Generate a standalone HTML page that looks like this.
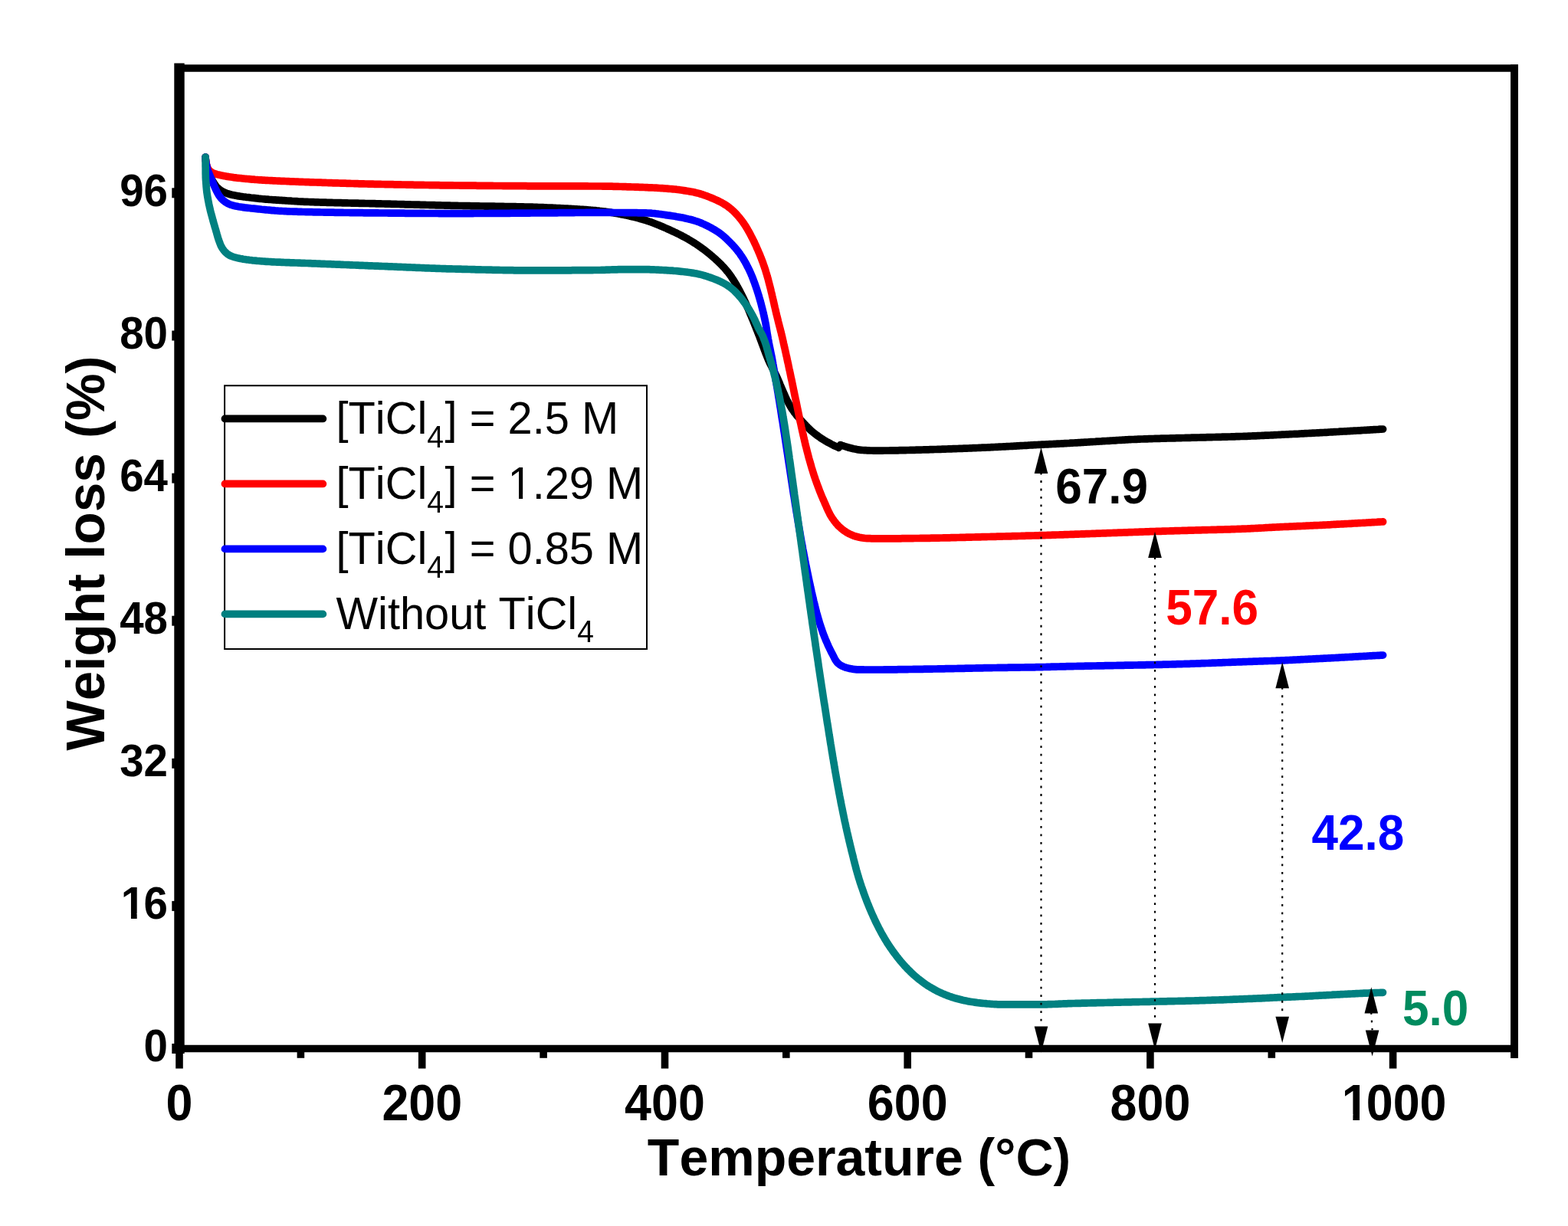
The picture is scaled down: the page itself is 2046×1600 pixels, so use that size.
<!DOCTYPE html>
<html lang="en">
<head>
<meta charset="utf-8">
<title>TGA weight loss vs temperature</title>
<style>
html,body{margin:0;padding:0;background:#fff;}
body{width:2046px;height:1600px;overflow:hidden;}
svg{display:block;}
</style>
</head>
<body>
<svg xmlns="http://www.w3.org/2000/svg" width="2046" height="1600" viewBox="0 0 2046 1600">
<rect width="2046" height="1600" fill="#fff"/>
<g fill="none" stroke-linecap="round" stroke-linejoin="round" stroke-width="9.7">
<path stroke="#000000" d="M268.1,205.0 L268.2,207.0 L268.4,209.0 L268.7,211.0 L269.0,213.0 L269.4,215.0 L269.7,216.9 L270.2,218.8 L270.7,220.8 L271.3,222.6 L271.9,224.5 L272.7,226.4 L273.5,228.2 L274.4,230.0 L275.2,231.9 L276.1,233.6 L277.1,235.4 L278.1,237.1 L279.1,238.8 L280.2,240.5 L281.4,242.2 L282.6,243.7 L284.0,245.2 L285.5,246.5 L287.0,247.7 L288.7,248.9 L290.4,249.9 L292.1,250.8 L294.0,251.6 L295.8,252.3 L297.7,252.9 L299.7,253.5 L301.6,254.0 L303.5,254.4 L305.5,254.8 L307.5,255.2 L309.4,255.6 L311.4,255.9 L313.4,256.2 L315.3,256.5 L317.3,256.8 L319.3,257.0 L321.3,257.3 L323.3,257.5 L325.3,257.7 L327.3,258.0 L329.2,258.2 L331.2,258.4 L333.2,258.6 L335.2,258.8 L337.2,259.1 L339.2,259.3 L341.2,259.5 L343.1,259.7 L345.1,259.9 L347.1,260.1 L349.1,260.2 L351.1,260.4 L353.1,260.5 L355.1,260.7 L357.1,260.8 L359.1,260.9 L361.1,261.1 L363.1,261.2 L365.1,261.3 L367.1,261.4 L369.1,261.6 L371.0,261.7 L373.0,261.8 L375.0,262.0 L377.0,262.1 L379.0,262.2 L381.0,262.4 L383.0,262.5 L385.0,262.6 L387.0,262.7 L389.0,262.9 L391.0,263.0 L393.0,263.1 L395.0,263.2 L397.0,263.3 L399.0,263.4 L401.0,263.4 L403.0,263.5 L405.0,263.6 L407.0,263.7 L409.0,263.7 L410.9,263.8 L412.9,263.9 L414.9,263.9 L416.9,264.0 L418.9,264.1 L420.9,264.1 L422.9,264.2 L424.9,264.2 L426.9,264.3 L428.9,264.3 L430.9,264.4 L432.9,264.4 L434.9,264.5 L436.9,264.6 L438.9,264.6 L440.9,264.6 L442.9,264.7 L444.9,264.7 L446.9,264.8 L448.9,264.8 L450.9,264.9 L452.9,264.9 L454.9,265.0 L456.9,265.0 L458.9,265.1 L460.9,265.1 L462.9,265.2 L464.9,265.2 L466.9,265.2 L468.9,265.3 L470.9,265.3 L472.9,265.4 L474.9,265.4 L476.9,265.5 L478.9,265.5 L480.9,265.5 L482.9,265.6 L484.9,265.6 L486.9,265.7 L488.9,265.7 L490.9,265.8 L492.9,265.8 L494.8,265.9 L496.8,265.9 L498.8,266.0 L500.8,266.0 L502.8,266.1 L504.8,266.1 L506.8,266.2 L508.8,266.2 L510.8,266.3 L512.8,266.3 L514.8,266.4 L516.8,266.4 L518.8,266.5 L520.8,266.5 L522.8,266.6 L524.8,266.6 L526.8,266.7 L528.8,266.8 L530.8,266.8 L532.8,266.9 L534.8,266.9 L536.8,267.0 L538.8,267.0 L540.8,267.1 L542.8,267.1 L544.8,267.2 L546.8,267.2 L548.8,267.3 L550.8,267.3 L552.8,267.4 L554.8,267.4 L556.8,267.5 L558.8,267.5 L560.8,267.6 L562.8,267.6 L564.8,267.7 L566.8,267.7 L568.8,267.8 L570.8,267.8 L572.7,267.9 L574.7,267.9 L576.7,268.0 L578.7,268.0 L580.7,268.1 L582.7,268.1 L584.7,268.2 L586.7,268.2 L588.7,268.3 L590.7,268.3 L592.7,268.3 L594.7,268.4 L596.7,268.4 L598.7,268.5 L600.7,268.5 L602.7,268.5 L604.7,268.6 L606.7,268.6 L608.7,268.7 L610.7,268.7 L612.7,268.7 L614.7,268.8 L616.7,268.8 L618.7,268.8 L620.7,268.9 L622.7,268.9 L624.7,268.9 L626.7,269.0 L628.7,269.0 L630.7,269.0 L632.7,269.1 L634.7,269.1 L636.7,269.1 L638.7,269.1 L640.7,269.2 L642.7,269.2 L644.7,269.2 L646.7,269.3 L648.7,269.3 L650.7,269.3 L652.7,269.4 L654.7,269.4 L656.7,269.4 L658.7,269.5 L660.7,269.5 L662.7,269.5 L664.6,269.6 L666.6,269.6 L668.6,269.6 L670.6,269.7 L672.6,269.7 L674.6,269.8 L676.6,269.8 L678.6,269.9 L680.6,269.9 L682.6,269.9 L684.6,270.0 L686.6,270.0 L688.6,270.1 L690.6,270.1 L692.6,270.2 L694.6,270.2 L696.6,270.3 L698.6,270.4 L700.6,270.4 L702.6,270.5 L704.6,270.6 L706.6,270.6 L708.6,270.7 L710.6,270.8 L712.6,270.9 L714.6,271.0 L716.6,271.1 L718.6,271.1 L720.6,271.2 L722.6,271.3 L724.6,271.4 L726.6,271.5 L728.6,271.6 L730.5,271.7 L732.5,271.8 L734.5,271.9 L736.5,272.0 L738.5,272.1 L740.5,272.2 L742.5,272.3 L744.5,272.4 L746.5,272.6 L748.5,272.7 L750.5,272.8 L752.5,272.9 L754.5,273.0 L756.5,273.2 L758.5,273.3 L760.5,273.4 L762.5,273.6 L764.5,273.7 L766.5,273.8 L768.5,274.0 L770.5,274.2 L772.4,274.3 L774.4,274.5 L776.4,274.7 L778.4,274.9 L780.4,275.0 L782.4,275.3 L784.4,275.5 L786.3,275.7 L788.3,276.0 L790.3,276.2 L792.3,276.5 L794.3,276.8 L796.2,277.1 L798.2,277.5 L800.2,277.8 L802.2,278.1 L804.1,278.5 L806.1,278.8 L808.1,279.2 L810.0,279.6 L812.0,279.9 L813.9,280.3 L815.9,280.7 L817.9,281.1 L819.8,281.6 L821.8,282.0 L823.7,282.5 L825.7,282.9 L827.6,283.4 L829.5,283.9 L831.5,284.4 L833.4,284.9 L835.3,285.5 L837.3,286.0 L839.2,286.6 L841.1,287.1 L843.0,287.7 L844.9,288.3 L846.8,289.0 L848.7,289.6 L850.5,290.3 L852.4,291.0 L854.3,291.7 L856.1,292.4 L858.0,293.2 L859.9,293.9 L861.7,294.7 L863.6,295.5 L865.4,296.3 L867.2,297.1 L869.1,297.9 L870.9,298.7 L872.7,299.5 L874.5,300.3 L876.3,301.2 L878.1,302.0 L880.0,302.9 L881.8,303.7 L883.6,304.6 L885.4,305.5 L887.2,306.4 L889.0,307.3 L890.7,308.3 L892.5,309.2 L894.3,310.1 L896.0,311.1 L897.8,312.1 L899.5,313.1 L901.2,314.1 L902.9,315.1 L904.6,316.2 L906.3,317.2 L907.9,318.3 L909.6,319.4 L911.2,320.5 L912.9,321.7 L914.5,322.8 L916.1,324.0 L917.8,325.2 L919.4,326.4 L921.0,327.6 L922.5,328.9 L924.1,330.1 L925.7,331.4 L927.2,332.7 L928.8,334.0 L930.3,335.3 L931.8,336.6 L933.3,337.9 L934.7,339.3 L936.2,340.6 L937.6,342.0 L939.1,343.4 L940.5,344.8 L941.9,346.2 L943.3,347.7 L944.7,349.1 L946.0,350.6 L947.3,352.2 L948.6,353.7 L949.9,355.2 L951.1,356.8 L952.3,358.4 L953.4,360.0 L954.5,361.6 L955.6,363.3 L956.7,365.0 L957.8,366.7 L958.8,368.4 L959.9,370.1 L960.9,371.8 L961.9,373.6 L962.9,375.3 L963.8,377.1 L964.8,378.9 L965.7,380.6 L966.6,382.4 L967.5,384.2 L968.4,386.0 L969.3,387.8 L970.2,389.5 L971.0,391.3 L971.9,393.2 L972.7,395.0 L973.5,396.8 L974.3,398.6 L975.1,400.5 L975.9,402.3 L976.7,404.1 L977.5,406.0 L978.3,407.8 L979.0,409.7 L979.8,411.5 L980.6,413.4 L981.3,415.2 L982.1,417.1 L982.9,418.9 L983.6,420.8 L984.4,422.6 L985.1,424.5 L985.9,426.3 L986.6,428.2 L987.3,430.0 L988.1,431.9 L988.8,433.8 L989.5,435.6 L990.3,437.5 L991.0,439.3 L991.7,441.2 L992.4,443.1 L993.1,444.9 L993.8,446.8 L994.5,448.7 L995.2,450.6 L995.9,452.4 L996.6,454.3 L997.3,456.2 L998.0,458.1 L998.7,459.9 L999.4,461.8 L1000.2,463.7 L1000.9,465.5 L1001.7,467.4 L1002.4,469.2 L1003.2,471.0 L1004.0,472.8 L1004.9,474.7 L1005.8,476.4 L1006.7,478.2 L1007.6,480.0 L1008.5,481.8 L1009.5,483.5 L1010.4,485.3 L1011.3,487.1 L1012.2,488.9 L1013.1,490.7 L1013.9,492.5 L1014.7,494.3 L1015.5,496.2 L1016.3,498.0 L1017.1,499.8 L1017.8,501.7 L1018.6,503.5 L1019.4,505.4 L1020.2,507.2 L1021.0,509.0 L1021.8,510.9 L1022.6,512.7 L1023.4,514.5 L1024.2,516.4 L1025.0,518.2 L1025.8,520.0 L1026.7,521.8 L1027.6,523.6 L1028.5,525.3 L1029.5,527.1 L1030.5,528.8 L1031.5,530.6 L1032.5,532.3 L1033.6,534.0 L1034.7,535.6 L1035.9,537.3 L1037.0,538.9 L1038.3,540.4 L1039.5,542.0 L1040.8,543.5 L1042.2,545.0 L1043.5,546.5 L1044.8,548.0 L1046.2,549.5 L1047.5,551.0 L1048.9,552.4 L1050.2,553.9 L1051.6,555.4 L1053.0,556.8 L1054.4,558.2 L1055.9,559.6 L1057.3,561.0 L1058.8,562.3 L1060.3,563.6 L1061.8,564.9 L1063.4,566.1 L1065.0,567.3 L1066.6,568.5 L1068.2,569.7 L1069.9,570.8 L1071.5,572.0 L1073.2,573.0 L1074.9,574.1 L1076.6,575.1 L1078.3,576.2 L1080.0,577.1 L1081.8,578.1 L1083.6,579.1 L1085.3,580.0 L1087.1,580.9 L1088.9,581.8 L1090.7,582.6 L1092.6,583.4 L1094.4,584.2 L1096.6,580.6 L1098.5,581.3 L1100.4,581.9 L1102.3,582.5 L1104.2,583.1 L1106.1,583.7 L1108.0,584.2 L1110.0,584.7 L1111.9,585.2 L1113.9,585.7 L1115.8,586.1 L1117.8,586.5 L1119.8,586.9 L1121.7,587.1 L1123.7,587.3 L1125.7,587.5 L1127.7,587.6 L1129.7,587.7 L1131.7,587.8 L1133.7,587.9 L1135.7,588.0 L1137.7,588.0 L1139.7,588.1 L1141.7,588.1 L1143.7,588.1 L1145.7,588.1 L1147.7,588.1 L1149.7,588.1 L1151.7,588.1 L1153.7,588.0 L1155.7,588.0 L1157.7,588.0 L1159.7,588.0 L1161.7,587.9 L1163.7,587.9 L1165.7,587.9 L1167.7,587.8 L1169.7,587.8 L1171.7,587.8 L1173.7,587.7 L1175.7,587.7 L1177.7,587.7 L1179.7,587.6 L1181.7,587.6 L1183.7,587.5 L1185.7,587.5 L1187.7,587.4 L1189.6,587.4 L1191.6,587.3 L1193.6,587.3 L1195.6,587.2 L1197.6,587.2 L1199.6,587.1 L1201.6,587.1 L1203.6,587.0 L1205.6,586.9 L1207.6,586.9 L1209.6,586.8 L1211.6,586.8 L1213.6,586.7 L1215.6,586.7 L1217.6,586.6 L1219.6,586.5 L1221.6,586.5 L1223.6,586.4 L1225.6,586.3 L1227.6,586.3 L1229.6,586.2 L1231.6,586.1 L1233.6,586.1 L1235.6,586.0 L1237.6,585.9 L1239.6,585.9 L1241.6,585.8 L1243.6,585.7 L1245.6,585.7 L1247.6,585.6 L1249.6,585.5 L1251.6,585.4 L1253.6,585.4 L1255.6,585.3 L1257.6,585.2 L1259.6,585.1 L1261.6,585.1 L1263.6,585.0 L1265.6,584.9 L1267.6,584.8 L1269.6,584.7 L1271.6,584.7 L1273.5,584.6 L1275.5,584.5 L1277.5,584.4 L1279.5,584.3 L1281.5,584.2 L1283.5,584.2 L1285.5,584.1 L1287.5,584.0 L1289.5,583.9 L1291.5,583.8 L1293.5,583.7 L1295.5,583.6 L1297.5,583.5 L1299.5,583.4 L1301.5,583.3 L1303.5,583.2 L1305.5,583.1 L1307.5,583.0 L1309.5,582.9 L1311.5,582.8 L1313.5,582.7 L1315.5,582.6 L1317.5,582.5 L1319.5,582.4 L1321.5,582.3 L1323.5,582.2 L1325.5,582.1 L1327.4,581.9 L1329.4,581.8 L1331.4,581.7 L1333.4,581.6 L1335.4,581.5 L1337.4,581.4 L1339.4,581.3 L1341.4,581.2 L1343.4,581.0 L1345.4,580.9 L1347.4,580.8 L1349.4,580.7 L1351.4,580.6 L1353.4,580.5 L1355.4,580.4 L1357.4,580.3 L1359.4,580.2 L1361.4,580.1 L1363.4,580.0 L1365.4,579.9 L1367.4,579.8 L1369.4,579.7 L1371.4,579.6 L1373.4,579.5 L1375.3,579.4 L1377.3,579.3 L1379.3,579.2 L1381.3,579.1 L1383.3,579.0 L1385.3,578.9 L1387.3,578.8 L1389.3,578.7 L1391.3,578.6 L1393.3,578.5 L1395.3,578.4 L1397.3,578.2 L1399.3,578.1 L1401.3,578.0 L1403.3,577.9 L1405.3,577.8 L1407.3,577.7 L1409.3,577.6 L1411.3,577.4 L1413.3,577.3 L1415.3,577.2 L1417.3,577.1 L1419.3,577.0 L1421.2,576.8 L1423.2,576.7 L1425.2,576.6 L1427.2,576.5 L1429.2,576.4 L1431.2,576.2 L1433.2,576.1 L1435.2,576.0 L1437.2,575.9 L1439.2,575.7 L1441.2,575.6 L1443.2,575.5 L1445.2,575.4 L1447.2,575.3 L1449.2,575.1 L1451.2,575.0 L1453.2,574.9 L1455.2,574.8 L1457.2,574.6 L1459.2,574.5 L1461.2,574.4 L1463.1,574.3 L1465.1,574.2 L1467.1,574.1 L1469.1,573.9 L1471.1,573.8 L1473.1,573.7 L1475.1,573.6 L1477.1,573.5 L1479.1,573.5 L1481.1,573.4 L1483.1,573.3 L1485.1,573.2 L1487.1,573.1 L1489.1,573.0 L1491.1,573.0 L1493.1,572.9 L1495.1,572.8 L1497.1,572.8 L1499.1,572.7 L1501.1,572.6 L1503.1,572.6 L1505.1,572.5 L1507.1,572.4 L1509.1,572.4 L1511.1,572.3 L1513.1,572.3 L1515.1,572.2 L1517.1,572.2 L1519.1,572.1 L1521.1,572.1 L1523.1,572.0 L1525.1,572.0 L1527.1,571.9 L1529.1,571.9 L1531.1,571.8 L1533.1,571.8 L1535.0,571.7 L1537.0,571.7 L1539.0,571.6 L1541.0,571.6 L1543.0,571.5 L1545.0,571.5 L1547.0,571.4 L1549.0,571.4 L1551.0,571.3 L1553.0,571.3 L1555.0,571.2 L1557.0,571.2 L1559.0,571.1 L1561.0,571.1 L1563.0,571.0 L1565.0,571.0 L1567.0,570.9 L1569.0,570.9 L1571.0,570.8 L1573.0,570.8 L1575.0,570.7 L1577.0,570.7 L1579.0,570.6 L1581.0,570.6 L1583.0,570.5 L1585.0,570.5 L1587.0,570.4 L1589.0,570.4 L1591.0,570.3 L1593.0,570.3 L1595.0,570.2 L1597.0,570.2 L1599.0,570.1 L1601.0,570.1 L1603.0,570.0 L1605.0,570.0 L1607.0,569.9 L1609.0,569.8 L1611.0,569.8 L1613.0,569.7 L1615.0,569.7 L1617.0,569.6 L1619.0,569.5 L1621.0,569.5 L1623.0,569.4 L1625.0,569.3 L1627.0,569.3 L1629.0,569.2 L1631.0,569.1 L1632.9,569.0 L1634.9,568.9 L1636.9,568.9 L1638.9,568.8 L1640.9,568.7 L1642.9,568.6 L1644.9,568.5 L1646.9,568.4 L1648.9,568.3 L1650.9,568.2 L1652.9,568.1 L1654.9,568.1 L1656.9,568.0 L1658.9,567.9 L1660.9,567.8 L1662.9,567.7 L1664.9,567.6 L1666.9,567.5 L1668.9,567.4 L1670.9,567.3 L1672.9,567.2 L1674.9,567.1 L1676.9,567.0 L1678.9,566.9 L1680.9,566.8 L1682.9,566.7 L1684.9,566.6 L1686.9,566.5 L1688.9,566.4 L1690.9,566.3 L1692.8,566.3 L1694.8,566.2 L1696.8,566.0 L1698.8,565.9 L1700.8,565.8 L1702.8,565.7 L1704.8,565.6 L1706.8,565.5 L1708.8,565.4 L1710.8,565.3 L1712.8,565.2 L1714.8,565.1 L1716.8,565.0 L1718.8,564.9 L1720.8,564.8 L1722.8,564.7 L1724.8,564.6 L1726.8,564.5 L1728.8,564.4 L1730.8,564.3 L1732.8,564.2 L1734.8,564.0 L1736.8,563.9 L1738.8,563.8 L1740.7,563.7 L1742.7,563.6 L1744.7,563.5 L1746.7,563.4 L1748.7,563.2 L1750.7,563.1 L1752.7,563.0 L1754.7,562.9 L1756.7,562.8 L1758.7,562.7 L1760.7,562.6 L1762.7,562.4 L1764.7,562.3 L1766.7,562.2 L1768.7,562.1 L1770.7,562.0 L1772.7,561.9 L1774.7,561.8 L1776.7,561.6 L1778.7,561.5 L1780.7,561.4 L1782.7,561.3 L1784.6,561.2 L1786.6,561.1 L1788.6,560.9 L1790.6,560.8 L1792.6,560.7 L1794.6,560.6 L1796.6,560.5 L1798.6,560.4 L1800.6,560.2 L1802.6,560.1 L1804.6,560.0"/>
<path stroke="#ff0000" d="M268.1,205.0 L268.2,207.0 L268.4,209.0 L268.7,211.0 L269.0,213.0 L269.5,214.9 L270.0,216.9 L270.7,218.7 L271.7,220.5 L272.8,222.0 L274.2,223.4 L275.9,224.6 L277.6,225.6 L279.5,226.4 L281.3,227.0 L283.3,227.6 L285.2,228.1 L287.2,228.5 L289.1,228.9 L291.1,229.4 L293.1,229.7 L295.0,230.1 L297.0,230.4 L299.0,230.7 L301.0,231.0 L302.9,231.3 L304.9,231.6 L306.9,231.8 L308.9,232.1 L310.9,232.3 L312.9,232.5 L314.9,232.7 L316.8,233.0 L318.8,233.2 L320.8,233.3 L322.8,233.5 L324.8,233.7 L326.8,233.9 L328.8,234.1 L330.8,234.2 L332.8,234.4 L334.8,234.5 L336.8,234.7 L338.8,234.8 L340.8,234.9 L342.7,235.1 L344.7,235.2 L346.7,235.3 L348.7,235.4 L350.7,235.5 L352.7,235.6 L354.7,235.7 L356.7,235.8 L358.7,235.9 L360.7,236.0 L362.7,236.1 L364.7,236.2 L366.7,236.3 L368.7,236.4 L370.7,236.4 L372.7,236.5 L374.7,236.6 L376.7,236.7 L378.7,236.8 L380.7,236.9 L382.7,236.9 L384.7,237.0 L386.7,237.1 L388.7,237.2 L390.7,237.3 L392.7,237.3 L394.7,237.4 L396.7,237.5 L398.7,237.6 L400.7,237.6 L402.7,237.7 L404.7,237.8 L406.7,237.8 L408.7,237.9 L410.7,238.0 L412.7,238.0 L414.7,238.1 L416.7,238.2 L418.7,238.2 L420.7,238.3 L422.7,238.4 L424.7,238.4 L426.7,238.5 L428.7,238.6 L430.6,238.6 L432.6,238.7 L434.6,238.8 L436.6,238.8 L438.6,238.9 L440.6,238.9 L442.6,239.0 L444.6,239.1 L446.6,239.1 L448.6,239.2 L450.6,239.2 L452.6,239.3 L454.6,239.4 L456.6,239.4 L458.6,239.5 L460.6,239.5 L462.6,239.6 L464.6,239.6 L466.6,239.7 L468.6,239.8 L470.6,239.8 L472.6,239.9 L474.6,239.9 L476.6,240.0 L478.6,240.0 L480.6,240.1 L482.6,240.1 L484.6,240.2 L486.6,240.2 L488.6,240.3 L490.6,240.3 L492.6,240.3 L494.6,240.4 L496.6,240.4 L498.6,240.5 L500.6,240.5 L502.6,240.6 L504.6,240.6 L506.6,240.6 L508.6,240.7 L510.6,240.7 L512.6,240.7 L514.6,240.8 L516.6,240.8 L518.6,240.9 L520.6,240.9 L522.6,240.9 L524.6,241.0 L526.6,241.0 L528.6,241.0 L530.6,241.1 L532.6,241.1 L534.6,241.2 L536.6,241.2 L538.6,241.2 L540.6,241.3 L542.6,241.3 L544.6,241.3 L546.6,241.4 L548.6,241.4 L550.6,241.4 L552.6,241.4 L554.6,241.5 L556.6,241.5 L558.6,241.5 L560.6,241.6 L562.6,241.6 L564.6,241.6 L566.6,241.6 L568.6,241.7 L570.6,241.7 L572.6,241.7 L574.6,241.8 L576.6,241.8 L578.6,241.8 L580.6,241.8 L582.6,241.9 L584.6,241.9 L586.6,241.9 L588.6,241.9 L590.6,241.9 L592.6,242.0 L594.6,242.0 L596.6,242.0 L598.6,242.0 L600.6,242.1 L602.6,242.1 L604.6,242.1 L606.6,242.1 L608.6,242.1 L610.6,242.2 L612.6,242.2 L614.6,242.2 L616.6,242.2 L618.6,242.2 L620.6,242.2 L622.6,242.3 L624.6,242.3 L626.6,242.3 L628.6,242.3 L630.6,242.3 L632.5,242.4 L634.5,242.4 L636.5,242.4 L638.5,242.4 L640.5,242.4 L642.5,242.4 L644.5,242.5 L646.5,242.5 L648.5,242.5 L650.5,242.5 L652.5,242.5 L654.5,242.5 L656.5,242.6 L658.5,242.6 L660.5,242.6 L662.5,242.6 L664.5,242.6 L666.5,242.6 L668.5,242.6 L670.5,242.7 L672.5,242.7 L674.5,242.7 L676.5,242.7 L678.5,242.7 L680.5,242.7 L682.5,242.7 L684.5,242.7 L686.5,242.7 L688.5,242.8 L690.5,242.8 L692.5,242.8 L694.5,242.8 L696.5,242.8 L698.5,242.8 L700.5,242.8 L702.5,242.8 L704.5,242.8 L706.5,242.8 L708.5,242.8 L710.5,242.8 L712.5,242.8 L714.5,242.8 L716.5,242.8 L718.5,242.9 L720.5,242.9 L722.5,242.9 L724.5,242.9 L726.5,242.9 L728.5,242.9 L730.5,242.9 L732.5,242.9 L734.5,242.9 L736.5,242.9 L738.5,242.9 L740.5,242.9 L742.5,242.9 L744.5,242.9 L746.5,242.9 L748.5,242.9 L750.5,242.9 L752.5,242.9 L754.5,242.9 L756.5,242.9 L758.5,242.9 L760.5,242.9 L762.5,242.9 L764.5,242.9 L766.5,242.9 L768.5,243.0 L770.5,243.0 L772.5,243.0 L774.5,243.0 L776.5,243.0 L778.5,243.0 L780.5,243.0 L782.5,243.0 L784.5,243.0 L786.5,243.1 L788.5,243.1 L790.5,243.1 L792.5,243.1 L794.5,243.2 L796.5,243.2 L798.5,243.2 L800.5,243.3 L802.5,243.3 L804.5,243.4 L806.5,243.4 L808.5,243.5 L810.5,243.5 L812.5,243.6 L814.5,243.6 L816.5,243.7 L818.5,243.8 L820.5,243.8 L822.5,243.9 L824.5,244.0 L826.5,244.0 L828.5,244.1 L830.5,244.2 L832.5,244.2 L834.5,244.3 L836.5,244.4 L838.5,244.4 L840.5,244.5 L842.5,244.6 L844.5,244.7 L846.5,244.8 L848.5,244.8 L850.5,244.9 L852.5,245.0 L854.5,245.1 L856.5,245.2 L858.5,245.3 L860.4,245.5 L862.4,245.6 L864.4,245.7 L866.4,245.8 L868.4,246.0 L870.4,246.1 L872.4,246.3 L874.4,246.5 L876.4,246.6 L878.4,246.8 L880.4,247.0 L882.4,247.2 L884.4,247.5 L886.4,247.7 L888.4,248.0 L890.3,248.3 L892.3,248.6 L894.3,248.9 L896.3,249.2 L898.3,249.5 L900.2,249.9 L902.2,250.2 L904.1,250.6 L906.1,251.0 L908.0,251.5 L909.9,251.9 L911.8,252.4 L913.8,253.0 L915.7,253.6 L917.6,254.2 L919.5,254.9 L921.4,255.5 L923.3,256.3 L925.2,257.0 L927.1,257.7 L928.9,258.5 L930.8,259.3 L932.6,260.1 L934.4,260.9 L936.2,261.7 L938.0,262.6 L939.8,263.5 L941.6,264.4 L943.3,265.4 L945.1,266.5 L946.8,267.5 L948.4,268.6 L950.1,269.8 L951.7,271.0 L953.2,272.2 L954.7,273.5 L956.2,274.8 L957.7,276.2 L959.1,277.6 L960.5,279.1 L961.9,280.6 L963.2,282.1 L964.5,283.6 L965.8,285.2 L967.0,286.7 L968.2,288.3 L969.4,289.9 L970.5,291.5 L971.6,293.2 L972.7,294.8 L973.7,296.5 L974.8,298.3 L975.8,300.0 L976.8,301.8 L977.8,303.5 L978.8,305.3 L979.7,307.1 L980.6,308.9 L981.5,310.6 L982.4,312.4 L983.3,314.2 L984.2,316.0 L985.0,317.8 L985.9,319.6 L986.7,321.4 L987.5,323.3 L988.3,325.1 L989.1,326.9 L989.9,328.8 L990.7,330.6 L991.5,332.5 L992.2,334.4 L992.9,336.2 L993.7,338.1 L994.4,340.0 L995.1,341.8 L995.8,343.7 L996.4,345.6 L997.1,347.5 L997.7,349.4 L998.4,351.3 L999.0,353.2 L999.5,355.1 L1000.1,357.0 L1000.7,358.9 L1001.2,360.8 L1001.8,362.7 L1002.3,364.6 L1002.8,366.6 L1003.3,368.5 L1003.8,370.4 L1004.3,372.4 L1004.8,374.3 L1005.3,376.2 L1005.8,378.2 L1006.2,380.1 L1006.7,382.1 L1007.2,384.0 L1007.6,386.0 L1008.1,387.9 L1008.5,389.9 L1009.0,391.8 L1009.4,393.8 L1009.9,395.8 L1010.3,397.7 L1010.8,399.7 L1011.2,401.6 L1011.7,403.6 L1012.1,405.5 L1012.6,407.5 L1013.0,409.4 L1013.5,411.4 L1014.0,413.3 L1014.5,415.3 L1015.0,417.2 L1015.4,419.1 L1015.9,421.1 L1016.4,423.0 L1016.9,424.9 L1017.4,426.9 L1017.9,428.8 L1018.4,430.8 L1018.9,432.7 L1019.4,434.6 L1019.8,436.6 L1020.3,438.5 L1020.8,440.5 L1021.2,442.4 L1021.7,444.4 L1022.1,446.3 L1022.5,448.3 L1023.0,450.2 L1023.4,452.2 L1023.9,454.1 L1024.3,456.1 L1024.7,458.0 L1025.2,460.0 L1025.6,461.9 L1026.0,463.9 L1026.5,465.8 L1026.9,467.8 L1027.3,469.7 L1027.7,471.7 L1028.2,473.7 L1028.6,475.6 L1029.0,477.6 L1029.4,479.5 L1029.8,481.5 L1030.3,483.4 L1030.7,485.4 L1031.1,487.3 L1031.5,489.3 L1031.9,491.2 L1032.3,493.2 L1032.8,495.2 L1033.2,497.1 L1033.6,499.1 L1034.0,501.0 L1034.4,503.0 L1034.8,504.9 L1035.2,506.9 L1035.6,508.9 L1036.0,510.8 L1036.4,512.8 L1036.8,514.7 L1037.2,516.7 L1037.6,518.6 L1038.0,520.6 L1038.5,522.6 L1038.9,524.5 L1039.3,526.5 L1039.7,528.4 L1040.1,530.4 L1040.5,532.4 L1040.9,534.3 L1041.3,536.3 L1041.7,538.2 L1042.1,540.2 L1042.5,542.1 L1042.9,544.1 L1043.3,546.1 L1043.7,548.0 L1044.1,550.0 L1044.6,551.9 L1045.0,553.9 L1045.4,555.8 L1045.8,557.8 L1046.3,559.7 L1046.7,561.7 L1047.1,563.6 L1047.6,565.6 L1048.0,567.5 L1048.5,569.5 L1048.9,571.4 L1049.4,573.4 L1049.8,575.3 L1050.3,577.3 L1050.7,579.2 L1051.2,581.2 L1051.7,583.1 L1052.2,585.0 L1052.7,587.0 L1053.2,588.9 L1053.7,590.9 L1054.2,592.8 L1054.7,594.7 L1055.2,596.7 L1055.7,598.6 L1056.3,600.5 L1056.8,602.4 L1057.4,604.4 L1057.9,606.3 L1058.5,608.2 L1059.0,610.1 L1059.6,612.0 L1060.2,613.9 L1060.8,615.9 L1061.4,617.8 L1062.0,619.7 L1062.6,621.6 L1063.3,623.5 L1063.9,625.4 L1064.6,627.2 L1065.2,629.1 L1065.9,631.0 L1066.6,632.9 L1067.3,634.8 L1068.0,636.6 L1068.7,638.5 L1069.4,640.4 L1070.1,642.2 L1070.9,644.1 L1071.6,645.9 L1072.4,647.8 L1073.2,649.6 L1074.0,651.5 L1074.8,653.3 L1075.6,655.1 L1076.4,657.0 L1077.2,658.8 L1078.0,660.6 L1078.8,662.5 L1079.6,664.3 L1080.4,666.1 L1081.3,667.9 L1082.2,669.7 L1083.1,671.5 L1084.1,673.2 L1085.1,674.9 L1086.2,676.6 L1087.4,678.2 L1088.5,679.9 L1089.8,681.4 L1091.0,683.0 L1092.4,684.5 L1093.7,686.0 L1095.1,687.4 L1096.6,688.7 L1098.1,690.0 L1099.7,691.3 L1101.3,692.5 L1103.0,693.6 L1104.6,694.7 L1106.4,695.7 L1108.1,696.6 L1109.9,697.5 L1111.8,698.3 L1113.6,699.1 L1115.5,699.8 L1117.4,700.3 L1119.4,700.8 L1121.3,701.3 L1123.3,701.6 L1125.2,702.0 L1127.2,702.2 L1129.2,702.5 L1131.2,702.6 L1133.2,702.7 L1135.2,702.7 L1137.2,702.8 L1139.2,702.8 L1141.2,702.8 L1143.2,702.8 L1145.2,702.9 L1147.2,702.9 L1149.2,702.9 L1151.2,702.9 L1153.2,702.9 L1155.2,702.9 L1157.2,702.9 L1159.2,702.9 L1161.2,702.9 L1163.2,702.9 L1165.2,702.9 L1167.2,702.9 L1169.2,702.8 L1171.2,702.8 L1173.2,702.8 L1175.2,702.8 L1177.2,702.7 L1179.2,702.7 L1181.2,702.7 L1183.2,702.7 L1185.2,702.6 L1187.2,702.6 L1189.2,702.6 L1191.2,702.6 L1193.2,702.5 L1195.2,702.5 L1197.2,702.5 L1199.2,702.5 L1201.2,702.4 L1203.2,702.4 L1205.2,702.4 L1207.2,702.4 L1209.2,702.3 L1211.2,702.3 L1213.2,702.3 L1215.2,702.2 L1217.2,702.2 L1219.2,702.2 L1221.2,702.1 L1223.2,702.1 L1225.2,702.1 L1227.2,702.0 L1229.2,702.0 L1231.2,701.9 L1233.2,701.9 L1235.2,701.9 L1237.2,701.8 L1239.2,701.8 L1241.2,701.7 L1243.2,701.7 L1245.2,701.6 L1247.2,701.6 L1249.2,701.5 L1251.2,701.5 L1253.2,701.4 L1255.2,701.4 L1257.2,701.3 L1259.2,701.3 L1261.2,701.2 L1263.2,701.2 L1265.2,701.1 L1267.2,701.1 L1269.2,701.0 L1271.2,701.0 L1273.2,700.9 L1275.2,700.9 L1277.2,700.8 L1279.2,700.8 L1281.2,700.7 L1283.2,700.7 L1285.2,700.6 L1287.2,700.6 L1289.2,700.5 L1291.2,700.5 L1293.2,700.4 L1295.2,700.4 L1297.1,700.3 L1299.1,700.3 L1301.1,700.2 L1303.1,700.2 L1305.1,700.1 L1307.1,700.1 L1309.1,700.0 L1311.1,700.0 L1313.1,699.9 L1315.1,699.9 L1317.1,699.8 L1319.1,699.8 L1321.1,699.7 L1323.1,699.7 L1325.1,699.6 L1327.1,699.6 L1329.1,699.5 L1331.1,699.5 L1333.1,699.4 L1335.1,699.4 L1337.1,699.3 L1339.1,699.2 L1341.1,699.2 L1343.1,699.1 L1345.1,699.1 L1347.1,699.0 L1349.1,699.0 L1351.1,698.9 L1353.1,698.9 L1355.1,698.8 L1357.1,698.7 L1359.1,698.7 L1361.1,698.6 L1363.1,698.6 L1365.1,698.5 L1367.1,698.4 L1369.1,698.4 L1371.1,698.3 L1373.1,698.2 L1375.1,698.2 L1377.1,698.1 L1379.1,698.0 L1381.1,698.0 L1383.1,697.9 L1385.1,697.8 L1387.1,697.8 L1389.1,697.7 L1391.1,697.6 L1393.1,697.6 L1395.1,697.5 L1397.1,697.4 L1399.1,697.4 L1401.1,697.3 L1403.1,697.2 L1405.1,697.1 L1407.1,697.1 L1409.1,697.0 L1411.1,696.9 L1413.1,696.9 L1415.1,696.8 L1417.1,696.7 L1419.1,696.7 L1421.1,696.6 L1423.1,696.5 L1425.1,696.4 L1427.1,696.4 L1429.0,696.3 L1431.0,696.2 L1433.0,696.2 L1435.0,696.1 L1437.0,696.0 L1439.0,695.9 L1441.0,695.9 L1443.0,695.8 L1445.0,695.7 L1447.0,695.7 L1449.0,695.6 L1451.0,695.5 L1453.0,695.4 L1455.0,695.4 L1457.0,695.3 L1459.0,695.2 L1461.0,695.2 L1463.0,695.1 L1465.0,695.0 L1467.0,694.9 L1469.0,694.9 L1471.0,694.8 L1473.0,694.7 L1475.0,694.6 L1477.0,694.6 L1479.0,694.5 L1481.0,694.4 L1483.0,694.3 L1485.0,694.3 L1487.0,694.2 L1489.0,694.1 L1491.0,694.1 L1493.0,694.0 L1495.0,693.9 L1497.0,693.8 L1499.0,693.8 L1501.0,693.7 L1503.0,693.6 L1505.0,693.6 L1507.0,693.5 L1509.0,693.4 L1511.0,693.4 L1513.0,693.3 L1515.0,693.3 L1517.0,693.2 L1519.0,693.1 L1521.0,693.1 L1523.0,693.0 L1525.0,693.0 L1527.0,692.9 L1529.0,692.8 L1531.0,692.8 L1533.0,692.7 L1535.0,692.7 L1537.0,692.6 L1539.0,692.6 L1540.9,692.5 L1542.9,692.4 L1544.9,692.4 L1546.9,692.3 L1548.9,692.3 L1550.9,692.2 L1552.9,692.2 L1554.9,692.1 L1556.9,692.1 L1558.9,692.0 L1560.9,691.9 L1562.9,691.9 L1564.9,691.8 L1566.9,691.8 L1568.9,691.7 L1570.9,691.7 L1572.9,691.6 L1574.9,691.6 L1576.9,691.5 L1578.9,691.5 L1580.9,691.4 L1582.9,691.4 L1584.9,691.3 L1586.9,691.3 L1588.9,691.2 L1590.9,691.2 L1592.9,691.1 L1594.9,691.1 L1596.9,691.0 L1598.9,690.9 L1600.9,690.9 L1602.9,690.8 L1604.9,690.8 L1606.9,690.7 L1608.9,690.6 L1610.9,690.6 L1612.9,690.5 L1614.9,690.4 L1616.9,690.4 L1618.9,690.3 L1620.9,690.2 L1622.9,690.1 L1624.9,690.1 L1626.9,690.0 L1628.9,689.9 L1630.9,689.8 L1632.9,689.7 L1634.9,689.6 L1636.9,689.5 L1638.9,689.4 L1640.9,689.3 L1642.9,689.2 L1644.9,689.1 L1646.9,689.0 L1648.9,688.9 L1650.8,688.7 L1652.8,688.6 L1654.8,688.5 L1656.8,688.4 L1658.8,688.3 L1660.8,688.2 L1662.8,688.1 L1664.8,688.0 L1666.8,687.9 L1668.8,687.8 L1670.8,687.7 L1672.8,687.6 L1674.8,687.5 L1676.8,687.4 L1678.8,687.3 L1680.8,687.3 L1682.8,687.2 L1684.8,687.1 L1686.8,687.0 L1688.8,686.9 L1690.8,686.8 L1692.8,686.7 L1694.8,686.6 L1696.8,686.6 L1698.8,686.5 L1700.8,686.4 L1702.8,686.3 L1704.8,686.2 L1706.8,686.1 L1708.8,686.0 L1710.8,685.9 L1712.8,685.8 L1714.8,685.7 L1716.8,685.7 L1718.8,685.6 L1720.7,685.5 L1722.7,685.4 L1724.7,685.3 L1726.7,685.2 L1728.7,685.1 L1730.7,685.0 L1732.7,684.9 L1734.7,684.8 L1736.7,684.7 L1738.7,684.5 L1740.7,684.4 L1742.7,684.3 L1744.7,684.2 L1746.7,684.1 L1748.7,684.0 L1750.7,683.9 L1752.7,683.8 L1754.7,683.7 L1756.7,683.6 L1758.7,683.5 L1760.7,683.4 L1762.7,683.3 L1764.7,683.1 L1766.7,683.0 L1768.7,682.9 L1770.7,682.8 L1772.7,682.7 L1774.7,682.6 L1776.7,682.5 L1778.6,682.4 L1780.6,682.3 L1782.6,682.2 L1784.6,682.0 L1786.6,681.9 L1788.6,681.8 L1790.6,681.7 L1792.6,681.6 L1794.6,681.5 L1796.6,681.4 L1798.6,681.2 L1800.6,681.1 L1802.6,681.0 L1804.6,680.9"/>
<path stroke="#0000ff" d="M268.1,205.0 L268.2,207.0 L268.4,209.0 L268.7,211.0 L269.0,213.0 L269.4,215.0 L269.8,216.9 L270.2,218.8 L270.7,220.8 L271.3,222.6 L272.0,224.5 L272.8,226.4 L273.6,228.2 L274.4,230.1 L275.2,231.9 L275.9,233.8 L276.7,235.6 L277.4,237.5 L278.2,239.3 L278.9,241.2 L279.7,243.0 L280.5,244.9 L281.3,246.7 L282.2,248.5 L283.1,250.3 L284.0,252.1 L285.0,253.8 L286.1,255.5 L287.3,257.1 L288.5,258.6 L289.9,260.1 L291.3,261.5 L292.9,262.8 L294.5,263.9 L296.2,265.0 L297.9,265.9 L299.8,266.7 L301.6,267.4 L303.5,268.0 L305.5,268.5 L307.4,268.9 L309.4,269.3 L311.4,269.7 L313.3,270.0 L315.3,270.3 L317.3,270.6 L319.3,270.9 L321.3,271.1 L323.3,271.3 L325.2,271.5 L327.2,271.8 L329.2,272.0 L331.2,272.2 L333.2,272.4 L335.2,272.6 L337.2,272.8 L339.2,273.0 L341.2,273.3 L343.1,273.5 L345.1,273.6 L347.1,273.8 L349.1,274.0 L351.1,274.2 L353.1,274.4 L355.1,274.6 L357.1,274.7 L359.1,274.9 L361.1,275.0 L363.1,275.2 L365.1,275.3 L367.1,275.4 L369.1,275.5 L371.1,275.6 L373.0,275.7 L375.0,275.8 L377.0,275.9 L379.0,276.0 L381.0,276.0 L383.0,276.1 L385.0,276.2 L387.0,276.2 L389.0,276.3 L391.0,276.4 L393.0,276.4 L395.0,276.5 L397.0,276.5 L399.0,276.6 L401.0,276.6 L403.0,276.7 L405.0,276.7 L407.0,276.7 L409.0,276.8 L411.0,276.8 L413.0,276.9 L415.0,276.9 L417.0,276.9 L419.0,277.0 L421.0,277.0 L423.0,277.1 L425.0,277.1 L427.0,277.1 L429.0,277.2 L431.0,277.2 L433.0,277.2 L435.0,277.2 L437.0,277.3 L439.0,277.3 L441.0,277.3 L443.0,277.4 L445.0,277.4 L447.0,277.4 L449.0,277.5 L451.0,277.5 L453.0,277.5 L455.0,277.5 L457.0,277.6 L459.0,277.6 L461.0,277.6 L463.0,277.6 L465.0,277.7 L467.0,277.7 L469.0,277.7 L471.0,277.7 L473.0,277.7 L475.0,277.8 L477.0,277.8 L479.0,277.8 L481.0,277.8 L483.0,277.8 L485.0,277.9 L487.0,277.9 L489.0,277.9 L491.0,277.9 L493.0,277.9 L495.0,278.0 L497.0,278.0 L499.0,278.0 L501.0,278.0 L503.0,278.0 L505.0,278.0 L507.0,278.1 L509.0,278.1 L511.0,278.1 L513.0,278.1 L515.0,278.1 L517.0,278.1 L519.0,278.2 L521.0,278.2 L523.0,278.2 L525.0,278.2 L527.0,278.2 L529.0,278.3 L531.0,278.3 L533.0,278.3 L535.0,278.3 L537.0,278.3 L539.0,278.3 L541.0,278.4 L543.0,278.4 L545.0,278.4 L547.0,278.4 L549.0,278.4 L551.0,278.4 L553.0,278.4 L555.0,278.5 L557.0,278.5 L559.0,278.5 L561.0,278.5 L563.0,278.5 L565.0,278.5 L567.0,278.5 L569.0,278.5 L571.0,278.5 L573.0,278.6 L575.0,278.6 L577.0,278.6 L579.0,278.6 L581.0,278.6 L583.0,278.6 L585.0,278.6 L587.0,278.6 L589.0,278.6 L591.0,278.6 L593.0,278.6 L595.0,278.6 L597.0,278.6 L599.0,278.6 L601.0,278.6 L603.0,278.6 L605.0,278.6 L607.0,278.6 L609.0,278.6 L611.0,278.6 L613.0,278.6 L615.0,278.6 L617.0,278.6 L619.0,278.5 L621.0,278.5 L623.0,278.5 L625.0,278.5 L627.0,278.5 L629.0,278.5 L631.0,278.5 L633.0,278.5 L635.0,278.5 L637.0,278.5 L639.0,278.4 L641.0,278.4 L643.0,278.4 L645.0,278.4 L647.0,278.4 L649.0,278.4 L651.0,278.4 L653.0,278.3 L655.0,278.3 L657.0,278.3 L659.0,278.3 L661.0,278.3 L663.0,278.3 L665.0,278.3 L667.0,278.2 L669.0,278.2 L671.0,278.2 L673.0,278.2 L675.0,278.2 L677.0,278.2 L679.0,278.2 L681.0,278.1 L683.0,278.1 L685.0,278.1 L687.0,278.1 L689.0,278.1 L691.0,278.1 L693.0,278.0 L695.0,278.0 L697.0,278.0 L699.0,278.0 L701.0,278.0 L703.0,278.0 L705.0,278.0 L707.0,277.9 L709.0,277.9 L711.0,277.9 L713.0,277.9 L715.0,277.9 L717.0,277.9 L719.0,277.8 L721.0,277.8 L722.9,277.8 L724.9,277.8 L726.9,277.8 L728.9,277.7 L730.9,277.7 L732.9,277.7 L734.9,277.7 L736.9,277.7 L738.9,277.6 L740.9,277.6 L742.9,277.6 L744.9,277.6 L746.9,277.6 L748.9,277.6 L750.9,277.5 L752.9,277.5 L754.9,277.5 L756.9,277.5 L758.9,277.5 L760.9,277.5 L762.9,277.5 L764.9,277.4 L766.9,277.4 L768.9,277.4 L770.9,277.4 L772.9,277.4 L774.9,277.4 L776.9,277.4 L778.9,277.4 L780.9,277.4 L782.9,277.4 L784.9,277.4 L786.9,277.4 L788.9,277.4 L790.9,277.4 L792.9,277.4 L794.9,277.4 L796.9,277.4 L798.9,277.4 L800.9,277.5 L802.9,277.5 L804.9,277.5 L807.0,277.5 L809.0,277.5 L811.0,277.5 L813.0,277.5 L815.0,277.6 L817.0,277.6 L819.0,277.6 L821.0,277.6 L823.0,277.6 L825.0,277.7 L827.0,277.7 L829.0,277.7 L830.9,277.7 L832.9,277.8 L834.9,277.8 L836.9,277.8 L838.9,277.8 L840.9,277.9 L842.9,277.9 L844.9,278.0 L846.9,278.1 L848.9,278.2 L850.9,278.4 L852.9,278.5 L854.9,278.7 L856.9,279.0 L858.9,279.2 L860.8,279.5 L862.8,279.7 L864.8,280.0 L866.8,280.3 L868.8,280.6 L870.8,280.9 L872.7,281.1 L874.7,281.4 L876.7,281.7 L878.7,282.0 L880.7,282.3 L882.7,282.7 L884.6,283.0 L886.6,283.4 L888.6,283.7 L890.6,284.1 L892.6,284.5 L894.5,285.0 L896.5,285.4 L898.4,285.9 L900.3,286.3 L902.2,286.8 L904.1,287.3 L906.0,287.9 L907.9,288.5 L909.8,289.1 L911.7,289.8 L913.6,290.5 L915.4,291.3 L917.3,292.1 L919.1,292.9 L921.0,293.8 L922.8,294.7 L924.6,295.6 L926.4,296.5 L928.2,297.5 L929.9,298.5 L931.7,299.5 L933.4,300.5 L935.0,301.6 L936.7,302.6 L938.3,303.7 L939.9,304.9 L941.5,306.1 L943.1,307.4 L944.6,308.7 L946.1,310.0 L947.6,311.4 L949.0,312.8 L950.5,314.2 L951.9,315.6 L953.3,317.0 L954.7,318.5 L956.1,319.9 L957.4,321.4 L958.8,322.9 L960.1,324.4 L961.4,326.0 L962.7,327.6 L963.9,329.1 L965.1,330.7 L966.2,332.4 L967.3,334.0 L968.4,335.6 L969.5,337.3 L970.5,339.0 L971.5,340.7 L972.5,342.5 L973.5,344.2 L974.4,346.0 L975.3,347.8 L976.3,349.6 L977.1,351.4 L978.0,353.2 L978.9,355.1 L979.7,356.9 L980.5,358.8 L981.3,360.6 L982.0,362.5 L982.7,364.3 L983.4,366.2 L984.1,368.0 L984.8,369.9 L985.4,371.7 L986.1,373.6 L986.7,375.5 L987.4,377.4 L988.0,379.3 L988.6,381.2 L989.2,383.1 L989.8,385.0 L990.4,387.0 L990.9,388.9 L991.5,390.8 L992.0,392.7 L992.6,394.7 L993.1,396.6 L993.6,398.6 L994.1,400.5 L994.6,402.5 L995.1,404.4 L995.6,406.4 L996.0,408.3 L996.5,410.3 L996.9,412.2 L997.4,414.2 L997.8,416.2 L998.2,418.1 L998.6,420.1 L999.0,422.0 L999.4,424.0 L999.7,425.9 L1000.0,427.9 L1000.3,429.9 L1000.6,431.9 L1000.9,433.9 L1001.2,435.8 L1001.5,437.8 L1001.9,439.8 L1002.2,441.8 L1002.6,443.7 L1003.0,445.7 L1003.3,447.6 L1003.7,449.6 L1004.1,451.6 L1004.5,453.5 L1004.9,455.5 L1005.3,457.5 L1005.7,459.4 L1006.1,461.4 L1006.5,463.3 L1006.9,465.3 L1007.3,467.3 L1007.6,469.2 L1008.0,471.2 L1008.4,473.2 L1008.7,475.1 L1009.1,477.1 L1009.4,479.1 L1009.7,481.0 L1010.1,483.0 L1010.4,485.0 L1010.8,486.9 L1011.1,488.9 L1011.4,490.9 L1011.8,492.9 L1012.1,494.8 L1012.4,496.8 L1012.8,498.8 L1013.1,500.7 L1013.4,502.7 L1013.8,504.7 L1014.1,506.7 L1014.4,508.6 L1014.7,510.6 L1015.1,512.6 L1015.4,514.6 L1015.7,516.5 L1016.0,518.5 L1016.4,520.5 L1016.7,522.4 L1017.0,524.4 L1017.3,526.4 L1017.6,528.4 L1017.9,530.3 L1018.3,532.3 L1018.6,534.3 L1018.9,536.3 L1019.2,538.2 L1019.5,540.2 L1019.8,542.2 L1020.1,544.2 L1020.4,546.1 L1020.7,548.1 L1021.1,550.1 L1021.4,552.1 L1021.7,554.0 L1022.0,556.0 L1022.3,558.0 L1022.6,560.0 L1022.9,562.0 L1023.2,563.9 L1023.5,565.9 L1023.8,567.9 L1024.1,569.9 L1024.4,571.8 L1024.7,573.8 L1025.0,575.8 L1025.3,577.8 L1025.6,579.7 L1025.9,581.7 L1026.2,583.7 L1026.5,585.7 L1026.8,587.7 L1027.1,589.6 L1027.4,591.6 L1027.7,593.6 L1028.0,595.6 L1028.3,597.5 L1028.6,599.5 L1028.9,601.5 L1029.2,603.5 L1029.5,605.4 L1029.8,607.4 L1030.1,609.4 L1030.4,611.4 L1030.7,613.4 L1031.0,615.3 L1031.3,617.3 L1031.6,619.3 L1031.9,621.3 L1032.2,623.2 L1032.5,625.2 L1032.8,627.2 L1033.1,629.2 L1033.4,631.1 L1033.7,633.1 L1034.0,635.1 L1034.3,637.1 L1034.6,639.0 L1034.9,641.0 L1035.2,643.0 L1035.5,645.0 L1035.9,647.0 L1036.2,648.9 L1036.5,650.9 L1036.8,652.9 L1037.1,654.9 L1037.4,656.8 L1037.7,658.8 L1038.1,660.8 L1038.4,662.7 L1038.7,664.7 L1039.0,666.7 L1039.3,668.7 L1039.7,670.6 L1040.0,672.6 L1040.3,674.6 L1040.6,676.6 L1041.0,678.5 L1041.3,680.5 L1041.6,682.5 L1042.0,684.4 L1042.3,686.4 L1042.6,688.4 L1043.0,690.4 L1043.3,692.3 L1043.7,694.3 L1044.0,696.3 L1044.3,698.2 L1044.7,700.2 L1045.0,702.2 L1045.4,704.1 L1045.7,706.1 L1046.1,708.1 L1046.5,710.1 L1046.8,712.0 L1047.2,714.0 L1047.5,716.0 L1047.9,717.9 L1048.3,719.9 L1048.6,721.8 L1049.0,723.8 L1049.4,725.8 L1049.8,727.7 L1050.1,729.7 L1050.5,731.7 L1050.9,733.6 L1051.3,735.6 L1051.7,737.6 L1052.1,739.5 L1052.5,741.5 L1052.9,743.4 L1053.3,745.4 L1053.7,747.4 L1054.1,749.3 L1054.5,751.3 L1054.9,753.2 L1055.3,755.2 L1055.7,757.1 L1056.1,759.1 L1056.5,761.0 L1057.0,763.0 L1057.4,765.0 L1057.8,766.9 L1058.3,768.9 L1058.7,770.8 L1059.1,772.8 L1059.6,774.7 L1060.0,776.7 L1060.5,778.6 L1060.9,780.6 L1061.4,782.5 L1061.8,784.5 L1062.3,786.4 L1062.8,788.3 L1063.3,790.3 L1063.7,792.2 L1064.2,794.2 L1064.7,796.1 L1065.2,798.0 L1065.7,800.0 L1066.3,801.9 L1066.8,803.8 L1067.3,805.7 L1067.9,807.7 L1068.5,809.6 L1069.0,811.5 L1069.6,813.4 L1070.2,815.3 L1070.8,817.2 L1071.5,819.1 L1072.1,821.0 L1072.8,822.9 L1073.4,824.8 L1074.1,826.7 L1074.8,828.5 L1075.5,830.4 L1076.3,832.3 L1077.0,834.1 L1077.8,836.0 L1078.6,837.8 L1079.4,839.6 L1080.2,841.5 L1081.0,843.3 L1081.9,845.1 L1082.7,846.9 L1083.6,848.7 L1084.5,850.5 L1085.4,852.3 L1086.4,854.0 L1087.3,855.9 L1088.2,857.7 L1089.1,859.5 L1090.1,861.3 L1091.2,862.9 L1092.4,864.5 L1093.7,865.8 L1095.3,867.1 L1097.0,868.2 L1098.7,869.1 L1100.5,870.0 L1102.4,870.7 L1104.3,871.4 L1106.2,871.9 L1108.2,872.4 L1110.1,872.7 L1112.1,873.1 L1114.1,873.4 L1116.1,873.6 L1118.1,873.8 L1120.1,873.9 L1122.1,873.9 L1124.1,873.9 L1126.1,873.9 L1128.1,874.0 L1130.1,874.0 L1132.1,874.0 L1134.1,874.0 L1136.1,874.0 L1138.1,874.0 L1140.1,874.0 L1142.1,874.0 L1144.1,874.0 L1146.1,874.0 L1148.1,874.0 L1150.1,874.0 L1152.1,874.0 L1154.1,873.9 L1156.1,873.9 L1158.1,873.9 L1160.1,873.9 L1162.1,873.9 L1164.1,873.8 L1166.1,873.8 L1168.1,873.8 L1170.1,873.8 L1172.1,873.7 L1174.1,873.7 L1176.1,873.7 L1178.1,873.6 L1180.1,873.6 L1182.1,873.6 L1184.1,873.6 L1186.1,873.5 L1188.1,873.5 L1190.1,873.5 L1192.1,873.4 L1194.1,873.4 L1196.1,873.4 L1198.1,873.4 L1200.1,873.3 L1202.1,873.3 L1204.1,873.3 L1206.1,873.2 L1208.1,873.2 L1210.1,873.2 L1212.1,873.1 L1214.1,873.1 L1216.1,873.1 L1218.1,873.0 L1220.1,873.0 L1222.1,873.0 L1224.1,872.9 L1226.1,872.9 L1228.0,872.9 L1230.0,872.8 L1232.0,872.8 L1234.0,872.7 L1236.0,872.7 L1238.0,872.7 L1240.0,872.6 L1242.0,872.6 L1244.0,872.6 L1246.0,872.5 L1248.0,872.5 L1250.0,872.4 L1252.0,872.4 L1254.0,872.3 L1256.0,872.3 L1258.0,872.3 L1260.0,872.2 L1262.0,872.2 L1264.0,872.1 L1266.0,872.1 L1268.0,872.1 L1270.0,872.0 L1272.0,872.0 L1274.0,871.9 L1276.0,871.9 L1278.0,871.9 L1280.0,871.8 L1282.0,871.8 L1284.0,871.7 L1286.0,871.7 L1288.0,871.7 L1290.0,871.6 L1292.0,871.6 L1294.0,871.6 L1296.0,871.5 L1298.0,871.5 L1300.0,871.5 L1302.0,871.4 L1304.0,871.4 L1306.0,871.4 L1308.0,871.3 L1310.0,871.3 L1312.0,871.3 L1314.0,871.3 L1316.0,871.2 L1318.0,871.2 L1320.0,871.2 L1322.0,871.2 L1324.0,871.1 L1326.0,871.1 L1328.0,871.1 L1330.0,871.1 L1332.0,871.0 L1334.0,871.0 L1336.0,871.0 L1338.0,870.9 L1340.0,870.9 L1342.0,870.9 L1344.0,870.9 L1346.0,870.8 L1348.0,870.8 L1350.0,870.8 L1352.0,870.7 L1354.0,870.7 L1356.0,870.6 L1358.0,870.6 L1360.0,870.6 L1362.0,870.5 L1364.0,870.5 L1366.0,870.4 L1368.0,870.3 L1370.0,870.3 L1372.0,870.2 L1374.0,870.2 L1376.0,870.1 L1378.0,870.1 L1380.0,870.0 L1382.0,870.0 L1384.0,869.9 L1386.0,869.9 L1388.0,869.8 L1390.0,869.8 L1392.0,869.7 L1394.0,869.7 L1396.0,869.6 L1398.0,869.6 L1400.0,869.6 L1402.0,869.5 L1404.0,869.5 L1406.0,869.4 L1408.0,869.4 L1410.0,869.4 L1412.0,869.3 L1414.0,869.3 L1416.0,869.2 L1418.0,869.2 L1420.0,869.2 L1422.0,869.1 L1424.0,869.1 L1426.0,869.0 L1428.0,869.0 L1430.0,869.0 L1432.0,868.9 L1434.0,868.9 L1436.0,868.9 L1438.0,868.8 L1440.0,868.8 L1442.0,868.7 L1444.0,868.7 L1446.0,868.7 L1448.0,868.6 L1450.0,868.6 L1452.0,868.6 L1454.0,868.5 L1456.0,868.5 L1458.0,868.4 L1460.0,868.4 L1462.0,868.4 L1464.0,868.3 L1466.0,868.3 L1468.0,868.2 L1470.0,868.2 L1472.0,868.2 L1474.0,868.1 L1476.0,868.1 L1478.0,868.1 L1479.9,868.0 L1481.9,868.0 L1483.9,868.0 L1485.9,867.9 L1487.9,867.9 L1489.9,867.8 L1491.9,867.8 L1493.9,867.8 L1495.9,867.7 L1497.9,867.7 L1499.9,867.7 L1501.9,867.6 L1503.9,867.6 L1505.9,867.5 L1507.9,867.5 L1509.9,867.4 L1511.9,867.4 L1513.9,867.3 L1515.9,867.3 L1517.9,867.2 L1519.9,867.2 L1521.9,867.1 L1523.9,867.1 L1525.9,867.0 L1527.9,867.0 L1529.9,866.9 L1531.9,866.9 L1533.9,866.8 L1535.9,866.7 L1537.9,866.7 L1539.9,866.6 L1541.9,866.6 L1543.9,866.5 L1545.9,866.4 L1547.9,866.4 L1549.9,866.3 L1551.9,866.3 L1553.9,866.2 L1555.9,866.1 L1557.9,866.1 L1559.9,866.0 L1561.9,865.9 L1563.9,865.9 L1565.9,865.8 L1567.9,865.7 L1569.9,865.7 L1571.9,865.6 L1573.9,865.5 L1575.9,865.5 L1577.9,865.4 L1579.9,865.3 L1581.9,865.2 L1583.9,865.2 L1585.9,865.1 L1587.9,865.0 L1589.9,864.9 L1591.9,864.9 L1593.9,864.8 L1595.9,864.7 L1597.9,864.6 L1599.9,864.5 L1601.9,864.5 L1603.9,864.4 L1605.9,864.3 L1607.9,864.2 L1609.9,864.2 L1611.9,864.1 L1613.9,864.0 L1615.9,863.9 L1617.9,863.9 L1619.9,863.8 L1621.9,863.7 L1623.8,863.6 L1625.8,863.6 L1627.8,863.5 L1629.8,863.4 L1631.8,863.3 L1633.8,863.3 L1635.8,863.2 L1637.8,863.1 L1639.8,863.1 L1641.8,863.0 L1643.8,862.9 L1645.8,862.9 L1647.8,862.8 L1649.8,862.7 L1651.8,862.7 L1653.8,862.6 L1655.8,862.5 L1657.8,862.5 L1659.8,862.4 L1661.8,862.3 L1663.8,862.3 L1665.8,862.2 L1667.8,862.1 L1669.8,862.0 L1671.8,861.9 L1673.8,861.9 L1675.8,861.8 L1677.8,861.7 L1679.8,861.6 L1681.8,861.5 L1683.8,861.4 L1685.8,861.3 L1687.8,861.2 L1689.8,861.1 L1691.8,861.0 L1693.8,860.9 L1695.8,860.8 L1697.8,860.7 L1699.8,860.6 L1701.8,860.5 L1703.8,860.4 L1705.8,860.3 L1707.8,860.2 L1709.8,860.1 L1711.8,860.0 L1713.8,859.9 L1715.7,859.8 L1717.7,859.7 L1719.7,859.6 L1721.7,859.5 L1723.7,859.4 L1725.7,859.3 L1727.7,859.2 L1729.7,859.1 L1731.7,859.0 L1733.7,858.9 L1735.7,858.8 L1737.7,858.7 L1739.7,858.6 L1741.7,858.5 L1743.7,858.4 L1745.7,858.3 L1747.7,858.1 L1749.7,858.0 L1751.7,857.9 L1753.7,857.8 L1755.7,857.7 L1757.7,857.6 L1759.7,857.5 L1761.7,857.4 L1763.7,857.3 L1765.7,857.1 L1767.7,857.0 L1769.7,856.9 L1771.7,856.8 L1773.7,856.7 L1775.6,856.6 L1777.6,856.5 L1779.6,856.4 L1781.6,856.3 L1783.6,856.2 L1785.6,856.0 L1787.6,855.9 L1789.6,855.8 L1791.6,855.7 L1793.6,855.6 L1795.6,855.5 L1797.6,855.4 L1799.6,855.3 L1801.6,855.2 L1803.6,855.1 L1804.6,855.0"/>
<path stroke="#008080" d="M268.1,205.0 L268.1,207.0 L268.1,209.0 L268.1,211.0 L268.1,213.0 L268.1,215.0 L268.1,217.0 L268.2,219.0 L268.2,221.0 L268.2,223.0 L268.2,225.0 L268.2,227.0 L268.3,229.0 L268.3,231.0 L268.4,233.0 L268.5,235.0 L268.7,237.0 L268.8,239.0 L269.0,241.0 L269.1,243.0 L269.3,245.0 L269.5,247.0 L269.7,248.9 L269.9,250.9 L270.2,252.9 L270.5,254.9 L270.8,256.9 L271.2,258.8 L271.5,260.8 L271.9,262.8 L272.3,264.7 L272.6,266.7 L273.1,268.6 L273.5,270.6 L274.0,272.5 L274.4,274.5 L274.9,276.4 L275.4,278.4 L275.9,280.3 L276.5,282.2 L277.0,284.2 L277.5,286.1 L278.0,288.0 L278.6,290.0 L279.1,291.9 L279.7,293.8 L280.2,295.7 L280.8,297.6 L281.4,299.6 L281.9,301.5 L282.5,303.4 L283.0,305.3 L283.6,307.3 L284.1,309.2 L284.7,311.1 L285.3,313.0 L286.0,314.9 L286.7,316.8 L287.4,318.6 L288.2,320.5 L289.1,322.3 L290.1,324.0 L291.2,325.6 L292.4,327.2 L293.8,328.7 L295.2,330.1 L296.8,331.4 L298.4,332.5 L300.1,333.5 L301.9,334.3 L303.8,335.0 L305.7,335.6 L307.7,336.1 L309.6,336.6 L311.5,337.1 L313.5,337.5 L315.5,337.8 L317.4,338.2 L319.4,338.5 L321.4,338.8 L323.4,339.0 L325.4,339.3 L327.4,339.5 L329.3,339.8 L331.3,340.0 L333.3,340.2 L335.3,340.4 L337.3,340.5 L339.3,340.7 L341.3,340.8 L343.3,341.0 L345.3,341.1 L347.3,341.3 L349.3,341.4 L351.3,341.5 L353.3,341.6 L355.3,341.8 L357.3,341.9 L359.3,342.0 L361.3,342.1 L363.3,342.1 L365.3,342.2 L367.3,342.3 L369.3,342.4 L371.2,342.5 L373.2,342.6 L375.2,342.6 L377.2,342.7 L379.2,342.8 L381.2,342.8 L383.2,342.9 L385.2,343.0 L387.2,343.0 L389.2,343.1 L391.2,343.2 L393.2,343.3 L395.2,343.3 L397.2,343.4 L399.2,343.5 L401.2,343.5 L403.2,343.6 L405.2,343.7 L407.2,343.8 L409.2,343.9 L411.2,343.9 L413.2,344.0 L415.2,344.1 L417.2,344.2 L419.2,344.3 L421.2,344.3 L423.2,344.4 L425.2,344.5 L427.2,344.6 L429.2,344.7 L431.2,344.7 L433.2,344.8 L435.2,344.9 L437.2,345.0 L439.2,345.1 L441.2,345.1 L443.2,345.2 L445.2,345.3 L447.2,345.4 L449.2,345.5 L451.2,345.5 L453.2,345.6 L455.2,345.7 L457.2,345.8 L459.2,345.9 L461.2,346.0 L463.2,346.0 L465.2,346.1 L467.2,346.2 L469.2,346.3 L471.2,346.4 L473.2,346.4 L475.2,346.5 L477.2,346.6 L479.2,346.7 L481.2,346.8 L483.2,346.8 L485.2,346.9 L487.1,347.0 L489.1,347.1 L491.1,347.2 L493.1,347.2 L495.1,347.3 L497.1,347.4 L499.1,347.5 L501.1,347.5 L503.1,347.6 L505.1,347.7 L507.1,347.8 L509.1,347.9 L511.1,347.9 L513.1,348.0 L515.1,348.1 L517.1,348.2 L519.1,348.3 L521.1,348.4 L523.1,348.4 L525.1,348.5 L527.1,348.6 L529.1,348.7 L531.1,348.8 L533.1,348.9 L535.1,348.9 L537.1,349.0 L539.1,349.1 L541.1,349.2 L543.1,349.3 L545.1,349.4 L547.1,349.4 L549.1,349.5 L551.1,349.6 L553.1,349.7 L555.1,349.8 L557.1,349.8 L559.1,349.9 L561.1,350.0 L563.1,350.1 L565.1,350.1 L567.1,350.2 L569.1,350.3 L571.1,350.4 L573.1,350.4 L575.1,350.5 L577.1,350.6 L579.1,350.6 L581.1,350.7 L583.1,350.8 L585.1,350.8 L587.1,350.9 L589.1,350.9 L591.1,351.0 L593.1,351.0 L595.1,351.1 L597.1,351.1 L599.1,351.2 L601.1,351.2 L603.1,351.3 L605.1,351.3 L607.1,351.4 L609.1,351.4 L611.0,351.5 L613.0,351.5 L615.0,351.6 L617.0,351.6 L619.0,351.7 L621.0,351.8 L623.0,351.8 L625.0,351.9 L627.0,351.9 L629.0,352.0 L631.0,352.0 L633.0,352.0 L635.0,352.1 L637.0,352.1 L639.0,352.2 L641.0,352.2 L643.0,352.3 L645.0,352.3 L647.0,352.4 L649.0,352.4 L651.0,352.4 L653.0,352.5 L655.0,352.5 L657.0,352.6 L659.0,352.6 L661.0,352.6 L663.0,352.7 L665.0,352.7 L667.0,352.7 L669.0,352.7 L671.0,352.8 L673.0,352.8 L675.0,352.8 L677.0,352.8 L679.0,352.8 L681.0,352.9 L683.0,352.9 L685.0,352.9 L687.0,352.9 L689.0,352.9 L691.0,352.9 L693.0,352.9 L695.0,352.9 L697.0,352.9 L699.0,352.9 L701.0,352.9 L703.0,352.9 L705.0,352.9 L707.0,352.9 L709.0,352.9 L711.0,352.9 L713.0,352.9 L715.0,352.9 L717.0,352.9 L719.0,352.9 L721.0,352.9 L723.0,352.8 L725.0,352.8 L727.0,352.8 L729.0,352.8 L731.0,352.8 L733.0,352.8 L735.0,352.8 L737.0,352.8 L739.0,352.8 L741.0,352.8 L743.0,352.8 L745.0,352.8 L747.0,352.7 L749.0,352.7 L751.0,352.7 L753.0,352.7 L755.0,352.7 L757.0,352.7 L759.0,352.7 L761.0,352.7 L763.0,352.6 L765.0,352.6 L767.0,352.6 L769.0,352.6 L771.0,352.6 L773.0,352.6 L775.0,352.5 L777.0,352.5 L779.0,352.5 L781.0,352.5 L783.0,352.5 L785.0,352.4 L787.0,352.4 L789.0,352.3 L791.0,352.2 L793.0,352.2 L795.0,352.1 L797.0,352.0 L799.0,351.9 L801.0,351.9 L803.0,351.8 L805.0,351.8 L807.0,351.7 L809.0,351.7 L811.0,351.7 L813.0,351.7 L815.0,351.7 L817.0,351.7 L819.0,351.7 L821.0,351.7 L823.0,351.7 L825.0,351.7 L827.0,351.7 L829.0,351.7 L831.0,351.7 L833.0,351.7 L835.0,351.7 L837.0,351.7 L839.0,351.7 L841.0,351.7 L843.0,351.7 L845.0,351.7 L847.0,351.7 L849.0,351.8 L851.0,351.8 L853.0,351.9 L855.0,352.0 L857.0,352.1 L859.0,352.2 L861.0,352.3 L863.0,352.4 L865.0,352.5 L867.0,352.6 L869.0,352.7 L871.0,352.8 L873.0,353.0 L875.0,353.1 L877.0,353.2 L879.0,353.4 L881.0,353.5 L883.0,353.7 L885.0,353.9 L887.0,354.1 L889.0,354.3 L891.0,354.5 L892.9,354.7 L894.9,355.0 L896.9,355.2 L898.9,355.5 L900.9,355.8 L902.8,356.1 L904.8,356.4 L906.7,356.7 L908.7,357.1 L910.6,357.5 L912.6,357.9 L914.5,358.4 L916.5,358.9 L918.4,359.5 L920.4,360.0 L922.3,360.6 L924.2,361.3 L926.1,361.9 L928.0,362.6 L929.9,363.3 L931.8,364.0 L933.6,364.7 L935.5,365.4 L937.3,366.2 L939.1,367.0 L940.9,367.9 L942.8,368.8 L944.5,369.7 L946.3,370.7 L948.0,371.8 L949.7,372.8 L951.3,374.0 L952.9,375.1 L954.5,376.3 L956.0,377.6 L957.5,378.9 L958.9,380.3 L960.4,381.8 L961.8,383.2 L963.2,384.7 L964.5,386.2 L965.8,387.7 L967.1,389.3 L968.3,390.8 L969.5,392.4 L970.7,394.0 L971.9,395.6 L973.0,397.2 L974.2,398.9 L975.3,400.6 L976.4,402.3 L977.4,404.0 L978.5,405.7 L979.5,407.4 L980.5,409.2 L981.5,410.9 L982.4,412.7 L983.4,414.5 L984.3,416.2 L985.1,418.0 L985.9,419.9 L986.7,421.7 L987.6,423.5 L988.4,425.3 L989.2,427.2 L990.1,429.0 L991.1,430.7 L992.0,432.5 L993.0,434.2 L994.0,436.0 L994.9,437.8 L995.7,439.6 L996.4,441.4 L997.1,443.3 L997.8,445.1 L998.5,447.0 L999.1,448.9 L999.7,450.8 L1000.3,452.7 L1000.8,454.7 L1001.4,456.6 L1001.9,458.5 L1002.5,460.5 L1003.0,462.4 L1003.5,464.3 L1004.1,466.3 L1004.6,468.2 L1005.2,470.1 L1005.7,472.0 L1006.3,474.0 L1006.8,475.9 L1007.4,477.8 L1007.9,479.7 L1008.4,481.7 L1009.0,483.6 L1009.5,485.5 L1010.0,487.5 L1010.5,489.4 L1011.0,491.3 L1011.5,493.3 L1011.9,495.2 L1012.4,497.2 L1012.9,499.1 L1013.3,501.1 L1013.8,503.0 L1014.2,505.0 L1014.7,506.9 L1015.1,508.9 L1015.5,510.8 L1015.9,512.8 L1016.4,514.7 L1016.8,516.7 L1017.2,518.6 L1017.6,520.6 L1017.9,522.6 L1018.3,524.5 L1018.7,526.5 L1019.1,528.5 L1019.5,530.4 L1019.8,532.4 L1020.2,534.4 L1020.6,536.3 L1020.9,538.3 L1021.3,540.3 L1021.6,542.2 L1021.9,544.2 L1022.3,546.2 L1022.6,548.1 L1022.9,550.1 L1023.3,552.1 L1023.6,554.1 L1023.9,556.0 L1024.2,558.0 L1024.5,560.0 L1024.8,562.0 L1025.1,563.9 L1025.4,565.9 L1025.7,567.9 L1026.0,569.9 L1026.3,571.8 L1026.6,573.8 L1026.9,575.8 L1027.2,577.8 L1027.5,579.8 L1027.8,581.7 L1028.1,583.7 L1028.4,585.7 L1028.6,587.7 L1028.9,589.7 L1029.2,591.6 L1029.5,593.6 L1029.8,595.6 L1030.0,597.6 L1030.3,599.6 L1030.6,601.5 L1030.9,603.5 L1031.2,605.5 L1031.4,607.5 L1031.7,609.5 L1032.0,611.4 L1032.3,613.4 L1032.5,615.4 L1032.8,617.4 L1033.1,619.4 L1033.4,621.3 L1033.6,623.3 L1033.9,625.3 L1034.2,627.3 L1034.5,629.3 L1034.7,631.2 L1035.0,633.2 L1035.3,635.2 L1035.6,637.2 L1035.8,639.2 L1036.1,641.2 L1036.4,643.1 L1036.6,645.1 L1036.9,647.1 L1037.2,649.1 L1037.5,651.1 L1037.7,653.0 L1038.0,655.0 L1038.3,657.0 L1038.6,659.0 L1038.8,661.0 L1039.1,662.9 L1039.4,664.9 L1039.6,666.9 L1039.9,668.9 L1040.2,670.9 L1040.5,672.9 L1040.7,674.8 L1041.0,676.8 L1041.3,678.8 L1041.5,680.8 L1041.8,682.8 L1042.1,684.7 L1042.4,686.7 L1042.6,688.7 L1042.9,690.7 L1043.2,692.7 L1043.4,694.6 L1043.7,696.6 L1044.0,698.6 L1044.3,700.6 L1044.5,702.6 L1044.8,704.6 L1045.1,706.5 L1045.3,708.5 L1045.6,710.5 L1045.9,712.5 L1046.2,714.5 L1046.4,716.4 L1046.7,718.4 L1047.0,720.4 L1047.3,722.4 L1047.5,724.4 L1047.8,726.3 L1048.1,728.3 L1048.3,730.3 L1048.6,732.3 L1048.9,734.3 L1049.2,736.2 L1049.4,738.2 L1049.7,740.2 L1050.0,742.2 L1050.3,744.2 L1050.5,746.2 L1050.8,748.1 L1051.1,750.1 L1051.4,752.1 L1051.6,754.1 L1051.9,756.1 L1052.2,758.0 L1052.5,760.0 L1052.7,762.0 L1053.0,764.0 L1053.3,766.0 L1053.6,767.9 L1053.8,769.9 L1054.1,771.9 L1054.4,773.9 L1054.7,775.9 L1055.0,777.8 L1055.2,779.8 L1055.5,781.8 L1055.8,783.8 L1056.1,785.8 L1056.4,787.7 L1056.6,789.7 L1056.9,791.7 L1057.2,793.7 L1057.5,795.7 L1057.8,797.6 L1058.0,799.6 L1058.3,801.6 L1058.6,803.6 L1058.9,805.6 L1059.2,807.5 L1059.5,809.5 L1059.7,811.5 L1060.0,813.5 L1060.3,815.5 L1060.6,817.4 L1060.9,819.4 L1061.2,821.4 L1061.5,823.4 L1061.7,825.4 L1062.0,827.3 L1062.3,829.3 L1062.6,831.3 L1062.9,833.3 L1063.2,835.3 L1063.5,837.2 L1063.8,839.2 L1064.0,841.2 L1064.3,843.2 L1064.6,845.1 L1064.9,847.1 L1065.2,849.1 L1065.5,851.1 L1065.8,853.1 L1066.1,855.0 L1066.4,857.0 L1066.7,859.0 L1067.0,861.0 L1067.3,862.9 L1067.6,864.9 L1067.8,866.9 L1068.1,868.9 L1068.4,870.9 L1068.7,872.8 L1069.0,874.8 L1069.3,876.8 L1069.6,878.8 L1069.9,880.7 L1070.2,882.7 L1070.5,884.7 L1070.8,886.7 L1071.1,888.7 L1071.4,890.6 L1071.7,892.6 L1072.0,894.6 L1072.3,896.6 L1072.6,898.5 L1072.9,900.5 L1073.2,902.5 L1073.5,904.5 L1073.8,906.4 L1074.1,908.4 L1074.4,910.4 L1074.7,912.4 L1075.0,914.4 L1075.3,916.3 L1075.6,918.3 L1076.0,920.3 L1076.3,922.3 L1076.6,924.2 L1076.9,926.2 L1077.2,928.2 L1077.5,930.2 L1077.8,932.1 L1078.1,934.1 L1078.4,936.1 L1078.7,938.1 L1079.0,940.0 L1079.3,942.0 L1079.6,944.0 L1080.0,946.0 L1080.3,947.9 L1080.6,949.9 L1080.9,951.9 L1081.2,953.9 L1081.5,955.8 L1081.8,957.8 L1082.1,959.8 L1082.5,961.8 L1082.8,963.7 L1083.1,965.7 L1083.4,967.7 L1083.7,969.7 L1084.0,971.6 L1084.4,973.6 L1084.7,975.6 L1085.0,977.6 L1085.3,979.5 L1085.6,981.5 L1086.0,983.5 L1086.3,985.5 L1086.6,987.4 L1086.9,989.4 L1087.3,991.4 L1087.6,993.4 L1087.9,995.3 L1088.3,997.3 L1088.6,999.3 L1088.9,1001.2 L1089.3,1003.2 L1089.6,1005.2 L1089.9,1007.2 L1090.3,1009.1 L1090.6,1011.1 L1091.0,1013.1 L1091.3,1015.0 L1091.7,1017.0 L1092.0,1019.0 L1092.4,1020.9 L1092.7,1022.9 L1093.1,1024.9 L1093.4,1026.8 L1093.8,1028.8 L1094.2,1030.8 L1094.5,1032.7 L1094.9,1034.7 L1095.3,1036.7 L1095.6,1038.6 L1096.0,1040.6 L1096.4,1042.6 L1096.8,1044.5 L1097.1,1046.5 L1097.5,1048.5 L1097.9,1050.4 L1098.3,1052.4 L1098.7,1054.3 L1099.1,1056.3 L1099.5,1058.3 L1099.9,1060.2 L1100.3,1062.2 L1100.7,1064.1 L1101.1,1066.1 L1101.5,1068.1 L1101.9,1070.0 L1102.3,1072.0 L1102.8,1073.9 L1103.2,1075.9 L1103.6,1077.8 L1104.0,1079.8 L1104.5,1081.7 L1104.9,1083.7 L1105.3,1085.6 L1105.8,1087.6 L1106.2,1089.5 L1106.7,1091.5 L1107.1,1093.4 L1107.6,1095.4 L1108.0,1097.3 L1108.5,1099.3 L1109.0,1101.2 L1109.4,1103.2 L1109.9,1105.1 L1110.4,1107.1 L1110.8,1109.0 L1111.3,1110.9 L1111.8,1112.9 L1112.3,1114.8 L1112.8,1116.8 L1113.3,1118.7 L1113.7,1120.6 L1114.2,1122.6 L1114.7,1124.5 L1115.2,1126.5 L1115.7,1128.4 L1116.2,1130.3 L1116.7,1132.3 L1117.2,1134.2 L1117.7,1136.1 L1118.3,1138.1 L1118.8,1140.0 L1119.4,1141.9 L1119.9,1143.8 L1120.5,1145.7 L1121.1,1147.6 L1121.7,1149.5 L1122.3,1151.5 L1122.9,1153.4 L1123.6,1155.3 L1124.2,1157.2 L1124.9,1159.0 L1125.5,1160.9 L1126.2,1162.8 L1126.8,1164.7 L1127.5,1166.6 L1128.2,1168.5 L1128.9,1170.4 L1129.6,1172.2 L1130.3,1174.1 L1131.0,1176.0 L1131.7,1177.8 L1132.5,1179.7 L1133.2,1181.5 L1134.0,1183.4 L1134.7,1185.2 L1135.5,1187.1 L1136.3,1188.9 L1137.1,1190.8 L1137.9,1192.6 L1138.7,1194.4 L1139.5,1196.2 L1140.4,1198.1 L1141.2,1199.9 L1142.0,1201.7 L1142.9,1203.5 L1143.8,1205.3 L1144.7,1207.1 L1145.6,1208.9 L1146.5,1210.7 L1147.4,1212.4 L1148.3,1214.2 L1149.3,1216.0 L1150.2,1217.7 L1151.2,1219.5 L1152.2,1221.2 L1153.2,1222.9 L1154.2,1224.7 L1155.2,1226.4 L1156.3,1228.1 L1157.3,1229.8 L1158.4,1231.5 L1159.5,1233.2 L1160.6,1234.8 L1161.7,1236.5 L1162.8,1238.1 L1164.0,1239.8 L1165.1,1241.4 L1166.3,1243.0 L1167.5,1244.6 L1168.7,1246.2 L1169.9,1247.8 L1171.1,1249.4 L1172.4,1251.0 L1173.6,1252.5 L1174.9,1254.1 L1176.2,1255.6 L1177.5,1257.1 L1178.8,1258.6 L1180.1,1260.1 L1181.5,1261.6 L1182.9,1263.0 L1184.2,1264.5 L1185.6,1265.9 L1187.1,1267.3 L1188.5,1268.7 L1189.9,1270.1 L1191.4,1271.5 L1192.9,1272.8 L1194.4,1274.1 L1195.9,1275.4 L1197.4,1276.7 L1199.0,1278.0 L1200.6,1279.2 L1202.2,1280.4 L1203.8,1281.6 L1205.4,1282.8 L1207.0,1283.9 L1208.7,1285.1 L1210.3,1286.2 L1212.0,1287.2 L1213.7,1288.3 L1215.4,1289.3 L1217.2,1290.3 L1218.9,1291.3 L1220.7,1292.2 L1222.5,1293.2 L1224.2,1294.1 L1226.0,1294.9 L1227.9,1295.8 L1229.7,1296.6 L1231.5,1297.4 L1233.4,1298.1 L1235.2,1298.9 L1237.1,1299.6 L1239.0,1300.3 L1240.9,1300.9 L1242.8,1301.6 L1244.7,1302.2 L1246.6,1302.8 L1248.5,1303.3 L1250.4,1303.8 L1252.4,1304.3 L1254.3,1304.8 L1256.3,1305.3 L1258.2,1305.7 L1260.2,1306.1 L1262.1,1306.5 L1264.1,1306.9 L1266.1,1307.2 L1268.0,1307.5 L1270.0,1307.8 L1272.0,1308.1 L1274.0,1308.4 L1276.0,1308.7 L1277.9,1308.9 L1279.9,1309.1 L1281.9,1309.3 L1283.9,1309.5 L1285.9,1309.7 L1287.9,1309.9 L1289.9,1310.0 L1291.9,1310.2 L1293.9,1310.3 L1295.9,1310.5 L1297.9,1310.6 L1299.9,1310.7 L1301.9,1310.8 L1303.9,1310.8 L1305.9,1310.9 L1307.9,1310.9 L1309.9,1310.9 L1311.9,1310.9 L1313.9,1310.9 L1315.9,1310.9 L1317.9,1310.9 L1319.9,1310.9 L1321.9,1310.9 L1323.9,1310.9 L1325.9,1310.9 L1327.9,1310.9 L1329.9,1310.9 L1331.9,1310.9 L1333.9,1310.9 L1335.9,1310.9 L1337.9,1310.9 L1339.9,1310.9 L1341.9,1310.9 L1343.9,1310.9 L1345.9,1310.9 L1347.9,1310.9 L1349.9,1310.9 L1351.9,1310.9 L1353.9,1310.9 L1355.9,1310.9 L1357.9,1310.9 L1359.9,1310.9 L1361.9,1310.9 L1363.9,1310.8 L1365.9,1310.8 L1367.8,1310.7 L1369.8,1310.7 L1371.8,1310.6 L1373.8,1310.5 L1375.8,1310.5 L1377.8,1310.4 L1379.8,1310.3 L1381.8,1310.2 L1383.8,1310.1 L1385.8,1310.0 L1387.8,1309.9 L1389.8,1309.9 L1391.8,1309.8 L1393.8,1309.7 L1395.8,1309.6 L1397.8,1309.6 L1399.8,1309.5 L1401.8,1309.5 L1403.8,1309.4 L1405.8,1309.4 L1407.8,1309.3 L1409.8,1309.3 L1411.8,1309.2 L1413.8,1309.2 L1415.8,1309.1 L1417.8,1309.1 L1419.8,1309.0 L1421.8,1309.0 L1423.8,1308.9 L1425.8,1308.9 L1427.8,1308.8 L1429.8,1308.8 L1431.8,1308.7 L1433.8,1308.7 L1435.8,1308.6 L1437.8,1308.6 L1439.8,1308.6 L1441.8,1308.5 L1443.8,1308.5 L1445.8,1308.4 L1447.8,1308.4 L1449.8,1308.3 L1451.8,1308.3 L1453.8,1308.2 L1455.8,1308.2 L1457.8,1308.2 L1459.8,1308.1 L1461.8,1308.1 L1463.8,1308.0 L1465.8,1308.0 L1467.8,1307.9 L1469.8,1307.9 L1471.8,1307.9 L1473.8,1307.8 L1475.8,1307.8 L1477.8,1307.7 L1479.8,1307.7 L1481.8,1307.6 L1483.8,1307.6 L1485.8,1307.6 L1487.8,1307.5 L1489.8,1307.5 L1491.8,1307.4 L1493.8,1307.4 L1495.8,1307.3 L1497.8,1307.3 L1499.8,1307.3 L1501.8,1307.2 L1503.8,1307.2 L1505.8,1307.1 L1507.8,1307.1 L1509.8,1307.0 L1511.8,1307.0 L1513.8,1306.9 L1515.8,1306.9 L1517.8,1306.9 L1519.8,1306.8 L1521.8,1306.8 L1523.8,1306.7 L1525.8,1306.7 L1527.8,1306.7 L1529.8,1306.6 L1531.8,1306.6 L1533.8,1306.5 L1535.8,1306.5 L1537.8,1306.4 L1539.8,1306.4 L1541.8,1306.3 L1543.8,1306.3 L1545.8,1306.3 L1547.8,1306.2 L1549.8,1306.2 L1551.8,1306.1 L1553.8,1306.1 L1555.8,1306.0 L1557.8,1306.0 L1559.8,1305.9 L1561.8,1305.9 L1563.8,1305.8 L1565.8,1305.7 L1567.8,1305.7 L1569.8,1305.6 L1571.8,1305.6 L1573.8,1305.5 L1575.8,1305.4 L1577.8,1305.4 L1579.8,1305.3 L1581.8,1305.2 L1583.8,1305.2 L1585.7,1305.1 L1587.7,1305.0 L1589.7,1305.0 L1591.7,1304.9 L1593.7,1304.8 L1595.7,1304.8 L1597.7,1304.7 L1599.7,1304.6 L1601.7,1304.5 L1603.7,1304.5 L1605.7,1304.4 L1607.7,1304.3 L1609.7,1304.2 L1611.7,1304.2 L1613.7,1304.1 L1615.7,1304.0 L1617.7,1303.9 L1619.7,1303.8 L1621.7,1303.8 L1623.7,1303.7 L1625.7,1303.6 L1627.7,1303.5 L1629.7,1303.4 L1631.7,1303.4 L1633.7,1303.3 L1635.7,1303.2 L1637.7,1303.1 L1639.7,1303.0 L1641.7,1302.9 L1643.7,1302.9 L1645.7,1302.8 L1647.7,1302.7 L1649.7,1302.6 L1651.7,1302.5 L1653.7,1302.4 L1655.7,1302.3 L1657.7,1302.2 L1659.7,1302.1 L1661.7,1302.0 L1663.7,1301.9 L1665.7,1301.8 L1667.7,1301.7 L1669.7,1301.6 L1671.7,1301.6 L1673.7,1301.5 L1675.7,1301.4 L1677.7,1301.3 L1679.7,1301.2 L1681.7,1301.1 L1683.7,1301.1 L1685.7,1301.0 L1687.7,1300.9 L1689.6,1300.8 L1691.6,1300.7 L1693.6,1300.6 L1695.6,1300.5 L1697.6,1300.5 L1699.6,1300.4 L1701.6,1300.3 L1703.6,1300.2 L1705.6,1300.1 L1707.6,1300.0 L1709.6,1299.9 L1711.6,1299.8 L1713.6,1299.6 L1715.6,1299.5 L1717.6,1299.4 L1719.6,1299.3 L1721.6,1299.2 L1723.6,1299.1 L1725.6,1299.0 L1727.6,1298.9 L1729.6,1298.8 L1731.6,1298.7 L1733.6,1298.6 L1735.6,1298.5 L1737.6,1298.4 L1739.6,1298.2 L1741.6,1298.1 L1743.6,1298.0 L1745.6,1297.9 L1747.6,1297.8 L1749.6,1297.7 L1751.6,1297.6 L1753.6,1297.5 L1755.6,1297.4 L1757.5,1297.3 L1759.5,1297.2 L1761.5,1297.1 L1763.5,1297.0 L1765.5,1296.9 L1767.5,1296.8 L1769.5,1296.7 L1771.5,1296.6 L1773.5,1296.5 L1775.5,1296.4 L1777.5,1296.3 L1779.5,1296.2 L1781.5,1296.2 L1783.5,1296.1 L1785.5,1296.0 L1787.5,1295.9 L1789.5,1295.8 L1791.5,1295.8 L1793.5,1295.7 L1795.5,1295.6 L1797.5,1295.5 L1799.5,1295.5 L1801.5,1295.4 L1803.5,1295.3 L1804.5,1295.3"/>
</g>
<g stroke="#000" fill="none">
<line x1="234.0" y1="89.0" x2="1980.8" y2="89.0" stroke-width="9.6"/>
<line x1="234.0" y1="1368.5" x2="1976.0" y2="1368.5" stroke-width="9.6"/>
<line x1="1976.0" y1="84.2" x2="1976.0" y2="1381.0" stroke-width="9.9"/>
<line x1="234.0" y1="82.4" x2="234.0" y2="1374.9" stroke-width="13.4"/>
<line x1="234.0" y1="1368.5" x2="234.0" y2="1394.5" stroke-width="9.6"/>
<line x1="550.7" y1="1368.5" x2="550.7" y2="1394.5" stroke-width="9.6"/>
<line x1="867.5" y1="1368.5" x2="867.5" y2="1394.5" stroke-width="9.6"/>
<line x1="1184.2" y1="1368.5" x2="1184.2" y2="1394.5" stroke-width="9.6"/>
<line x1="1500.9" y1="1368.5" x2="1500.9" y2="1394.5" stroke-width="9.6"/>
<line x1="1817.6" y1="1368.5" x2="1817.6" y2="1394.5" stroke-width="9.6"/>
<line x1="392.4" y1="1368.5" x2="392.4" y2="1380.8" stroke-width="9.6"/>
<line x1="709.1" y1="1368.5" x2="709.1" y2="1380.8" stroke-width="9.6"/>
<line x1="1025.8" y1="1368.5" x2="1025.8" y2="1380.8" stroke-width="9.6"/>
<line x1="1342.5" y1="1368.5" x2="1342.5" y2="1380.8" stroke-width="9.6"/>
<line x1="1659.3" y1="1368.5" x2="1659.3" y2="1380.8" stroke-width="9.6"/>
<line x1="224.3" y1="1368.5" x2="234.0" y2="1368.5" stroke-width="13"/>
<line x1="224.3" y1="1182.4" x2="234.0" y2="1182.4" stroke-width="13"/>
<line x1="224.3" y1="996.3" x2="234.0" y2="996.3" stroke-width="13"/>
<line x1="224.3" y1="810.2" x2="234.0" y2="810.2" stroke-width="13"/>
<line x1="224.3" y1="624.1" x2="234.0" y2="624.1" stroke-width="13"/>
<line x1="224.3" y1="438.0" x2="234.0" y2="438.0" stroke-width="13"/>
<line x1="224.3" y1="251.8" x2="234.0" y2="251.8" stroke-width="13"/>
</g>
<g stroke="#000" stroke-width="2.2" fill="none">
<line x1="1358.50" y1="616.61" x2="1358.50" y2="1339.55" stroke-dasharray="2.8 7.687"/>
<line x1="1507.00" y1="727.23" x2="1507.00" y2="1335.60" stroke-dasharray="2.8 7.687"/>
<line x1="1673.20" y1="896.85" x2="1673.20" y2="1326.80" stroke-dasharray="2.8 7.687"/>
<line x1="1789.22" y1="1321.11" x2="1790.60" y2="1344.40" stroke-dasharray="2.8 7.687"/>
</g>
<g fill="#000" stroke="none">
<polygon points="1358.50,583.70 1349.70,617.90 1367.30,617.90"/>
<polygon points="1358.50,1373.75 1349.70,1339.55 1367.30,1339.55"/>
<polygon points="1507.00,693.70 1498.20,727.90 1515.80,727.90"/>
<polygon points="1507.00,1369.80 1498.20,1335.60 1515.80,1335.60"/>
<polygon points="1673.20,864.00 1664.40,898.20 1682.00,898.20"/>
<polygon points="1673.20,1361.00 1664.40,1326.80 1682.00,1326.80"/>
<polygon points="1789.30,1288.30 1780.50,1322.50 1798.10,1322.50"/>
<polygon points="1790.60,1378.60 1781.80,1344.40 1799.40,1344.40"/>
</g>
<rect x="293.1" y="503.25" width="550.9" height="343.75" fill="none" stroke="#000" stroke-width="2"/>
<g fill="none" stroke-linecap="round" stroke-width="9.8">
<line x1="293.5" y1="546.45" x2="421.3" y2="546.45" stroke="#000000"/>
<line x1="293.5" y1="631.43" x2="421.3" y2="631.43" stroke="#ff0000"/>
<line x1="293.5" y1="716.41" x2="421.3" y2="716.41" stroke="#0000ff"/>
<line x1="293.5" y1="801.39" x2="421.3" y2="801.39" stroke="#008080"/>
</g>
<g font-family="'Liberation Sans', Arial, Helvetica, sans-serif" fill="#000" style="font-kerning:none">
<text transform="translate(438.50,565.95) scale(1.0000,1.0200)" font-size="57.80" xml:space="preserve">[TiCl<tspan font-size="39" dy="17.6">4</tspan><tspan dy="-17.6" dx="1.6">] = 2.5 M</tspan></text>
<text transform="translate(438.50,650.80) scale(1.0000,1.0200)" font-size="57.80" xml:space="preserve">[TiCl<tspan font-size="39" dy="17.6">4</tspan><tspan dy="-17.6" dx="1.6">] = 1.29 M</tspan></text>
<text transform="translate(438.50,735.65) scale(1.0000,1.0200)" font-size="57.80" xml:space="preserve">[TiCl<tspan font-size="39" dy="17.6">4</tspan><tspan dy="-17.6" dx="1.6">] = 0.85 M</tspan></text>
<text transform="translate(438.50,820.50) scale(1.0000,1.0200)" font-size="57.80" xml:space="preserve">Without TiCl<tspan font-size="39" dy="17.6">4</tspan></text>
<text transform="translate(219.00,1385.40) scale(1.0000,1.0450)" font-size="56.50" font-weight="bold" text-anchor="end" xml:space="preserve">0</text>
<text transform="translate(217.40,1199.29) scale(1.0000,1.0450)" font-size="56.50" font-weight="bold" text-anchor="end" xml:space="preserve"><tspan dx="1.6">1</tspan><tspan dx="-1.6">6</tspan></text>
<text transform="translate(219.00,1013.18) scale(1.0000,1.0450)" font-size="56.50" font-weight="bold" text-anchor="end" xml:space="preserve">32</text>
<text transform="translate(219.00,827.07) scale(1.0000,1.0450)" font-size="56.50" font-weight="bold" text-anchor="end" xml:space="preserve">48</text>
<text transform="translate(219.00,640.96) scale(1.0000,1.0450)" font-size="56.50" font-weight="bold" text-anchor="end" xml:space="preserve">64</text>
<text transform="translate(219.00,454.85) scale(1.0000,1.0450)" font-size="56.50" font-weight="bold" text-anchor="end" xml:space="preserve">80</text>
<text transform="translate(219.00,268.75) scale(1.0000,1.0450)" font-size="56.50" font-weight="bold" text-anchor="end" xml:space="preserve">96</text>
<text transform="translate(234.05,1461.90) scale(1.0000,1.0600)" font-size="62.80" font-weight="bold" text-anchor="middle" xml:space="preserve">0</text>
<text transform="translate(550.78,1461.90) scale(1.0000,1.0600)" font-size="62.80" font-weight="bold" text-anchor="middle" xml:space="preserve">200</text>
<text transform="translate(867.50,1461.90) scale(1.0000,1.0600)" font-size="62.80" font-weight="bold" text-anchor="middle" xml:space="preserve">400</text>
<text transform="translate(1184.23,1461.90) scale(1.0000,1.0600)" font-size="62.80" font-weight="bold" text-anchor="middle" xml:space="preserve">600</text>
<text transform="translate(1500.96,1461.90) scale(1.0000,1.0600)" font-size="62.80" font-weight="bold" text-anchor="middle" xml:space="preserve">800</text>
<text transform="translate(1816.24,1461.90) scale(1.0000,1.0600)" font-size="62.80" font-weight="bold" text-anchor="middle" xml:space="preserve"><tspan dx="2.9">1</tspan><tspan dx="-2.9">000</tspan></text>
<text transform="translate(1121.00,1534.05) scale(1.0000,1.0100)" font-size="68.00" font-weight="bold" text-anchor="middle" xml:space="preserve">Temperature (°C)</text>
<text transform="translate(136.00,722.00) rotate(-90) scale(1.0000,1.0100)" font-size="69.20" font-weight="bold" text-anchor="middle" xml:space="preserve">Weight loss (%)</text>
<text transform="translate(1377.20,657.00) scale(1.0000,1.0300)" font-size="62.10" font-weight="bold" xml:space="preserve">67.9</text>
<text transform="translate(1521.20,815.00) scale(1.0000,1.0300)" font-size="62.10" font-weight="bold" fill="#ff0000" xml:space="preserve">57.6</text>
<text transform="translate(1711.50,1108.50) scale(1.0000,1.0300)" font-size="62.10" font-weight="bold" fill="#0000ff" xml:space="preserve">42.8</text>
<text transform="translate(1830.00,1337.50) scale(1.0000,1.0300)" font-size="62.10" font-weight="bold" fill="#008b5e" xml:space="preserve">5.0</text>
</g>
<g fill="#fff" stroke="none">
<rect x="160.13" y="1192.00" width="10.81" height="8.20"/>
<rect x="178.67" y="1192.00" width="10.09" height="8.20"/>
<rect x="1753.50" y="1454.27" width="11.92" height="8.93"/>
<rect x="1774.00" y="1454.27" width="11.12" height="8.93"/>
<rect x="665.69" y="645.51" width="11.36" height="6.69"/>
<rect x="682.14" y="645.51" width="10.86" height="6.69"/>
</g>
</svg>
</body>
</html>
